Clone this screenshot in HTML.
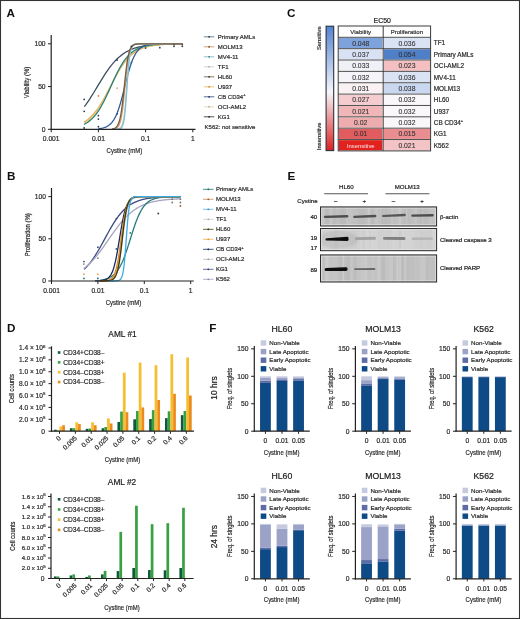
<!DOCTYPE html>
<html><head><meta charset="utf-8"><style>
html,body{margin:0;padding:0;background:#fff;width:520px;height:619px;overflow:hidden}
svg{display:block;font-family:"Liberation Sans", sans-serif;filter:blur(0.3px)}
</style></head><body>
<svg width="520" height="619" viewBox="0 0 520 619">
<rect width="520" height="619" fill="#fff"/>
<text transform="translate(6.50,16.60)" font-size="11.7" text-anchor="start" fill="#111" font-weight="bold">A</text>
<text transform="translate(7.00,180.10)" font-size="11.7" text-anchor="start" fill="#111" font-weight="bold">B</text>
<text transform="translate(287.00,16.80)" font-size="11.7" text-anchor="start" fill="#111" font-weight="bold">C</text>
<text transform="translate(7.00,331.70)" font-size="11.7" text-anchor="start" fill="#111" font-weight="bold">D</text>
<text transform="translate(287.40,180.20)" font-size="11.7" text-anchor="start" fill="#111" font-weight="bold">E</text>
<text transform="translate(209.30,331.50)" font-size="11.7" text-anchor="start" fill="#111" font-weight="bold">F</text>
<polyline points="84.30,106.70 85.53,105.07 86.75,103.37 87.98,101.60 89.21,99.78 90.44,97.90 91.66,95.97 92.89,94.00 94.12,92.00 95.35,89.97 96.58,87.93 97.80,85.88 99.03,83.83 100.26,81.80 101.48,79.79 102.71,77.80 103.94,75.86 105.17,73.96 106.39,72.12 107.62,70.33 108.85,68.61 110.08,66.96 111.31,65.37 112.53,63.86 113.76,62.43 114.99,61.07 116.22,59.78 117.44,58.58 118.67,57.44 119.90,56.38 121.12,55.38 122.35,54.45 123.58,53.59 124.81,52.79 126.03,52.05 127.26,51.36 128.49,50.73 129.72,50.14 130.94,49.60 132.17,49.10 133.40,48.64 134.63,48.22 135.86,47.84 137.08,47.48 138.31,47.16 139.54,46.86 140.76,46.59 141.99,46.35 143.22,46.12 144.45,45.91 145.68,45.72 146.90,45.55 148.13,45.39 149.36,45.25 150.58,45.12 151.81,45.00 153.04,44.89 154.27,44.79 155.50,44.70 156.72,44.62 157.95,44.55 159.18,44.48 160.41,44.42 161.63,44.36 162.86,44.31 164.09,44.26 165.31,44.22 166.54,44.18 167.77,44.15 169.00,44.12 170.22,44.09 171.45,44.06 172.68,44.04 173.91,44.02 175.13,44.00 176.36,43.98 177.59,43.96 178.82,43.95 180.05,43.93 181.27,43.92 182.50,43.91" fill="none" stroke="#3d4f66" stroke-width="1.3" stroke-linejoin="round"/>
<polyline points="84.00,122.19 85.23,121.42 86.46,120.59 87.69,119.67 88.92,118.67 90.16,117.59 91.39,116.41 92.62,115.13 93.85,113.76 95.08,112.29 96.31,110.71 97.54,109.03 98.78,107.25 100.01,105.37 101.24,103.39 102.47,101.33 103.70,99.18 104.93,96.96 106.16,94.68 107.39,92.36 108.62,89.99 109.86,87.61 111.09,85.21 112.32,82.83 113.55,80.47 114.78,78.15 116.01,75.87 117.24,73.66 118.47,71.53 119.71,69.47 120.94,67.51 122.17,65.64 123.40,63.87 124.63,62.20 125.86,60.64 127.09,59.17 128.32,57.81 129.56,56.55 130.79,55.38 132.02,54.31 133.25,53.32 134.48,52.41 135.71,51.58 136.94,50.83 138.18,50.14 139.41,49.51 140.64,48.94 141.87,48.43 143.10,47.96 144.33,47.54 145.56,47.16 146.79,46.82 148.03,46.51 149.26,46.23 150.49,45.98 151.72,45.75 152.95,45.55 154.18,45.37 155.41,45.20 156.64,45.06 157.88,44.93 159.11,44.81 160.34,44.70 161.57,44.61 162.80,44.52 164.03,44.45 165.26,44.38 166.49,44.32 167.72,44.26 168.96,44.21 170.19,44.17 171.42,44.13 172.65,44.10 173.88,44.07 175.11,44.04 176.34,44.01 177.57,43.99 178.81,43.97 180.04,43.95 181.27,43.94 182.50,43.92" fill="none" stroke="#e8a23a" stroke-width="1.3" stroke-linejoin="round"/>
<polyline points="84.00,123.29 85.23,122.59 86.46,121.81 87.69,120.95 88.92,120.01 90.16,118.97 91.39,117.84 92.62,116.60 93.85,115.25 95.08,113.79 96.31,112.21 97.54,110.52 98.78,108.71 100.01,106.78 101.24,104.74 102.47,102.60 103.70,100.36 104.93,98.03 106.16,95.62 107.39,93.15 108.62,90.64 109.86,88.09 111.09,85.54 112.32,82.99 113.55,80.47 114.78,77.99 116.01,75.57 117.24,73.22 118.47,70.96 119.71,68.79 120.94,66.73 122.17,64.78 123.40,62.95 124.63,61.23 125.86,59.63 127.09,58.15 128.32,56.78 129.56,55.51 130.79,54.36 132.02,53.30 133.25,52.34 134.48,51.46 135.71,50.67 136.94,49.95 138.18,49.30 139.41,48.72 140.64,48.19 141.87,47.72 143.10,47.30 144.33,46.92 145.56,46.58 146.79,46.27 148.03,46.00 149.26,45.76 150.49,45.54 151.72,45.35 152.95,45.18 154.18,45.02 155.41,44.89 156.64,44.77 157.88,44.66 159.11,44.56 160.34,44.48 161.57,44.40 162.80,44.33 164.03,44.27 165.26,44.22 166.49,44.17 167.72,44.13 168.96,44.10 170.19,44.06 171.42,44.03 172.65,44.01 173.88,43.98 175.11,43.96 176.34,43.94 177.57,43.93 178.81,43.91 180.04,43.90 181.27,43.89 182.50,43.88" fill="none" stroke="#e6d28e" stroke-width="1.3" stroke-linejoin="round"/>
<polyline points="84.00,124.36 85.23,123.73 86.46,123.02 87.69,122.23 88.92,121.36 90.16,120.38 91.39,119.31 92.62,118.12 93.85,116.81 95.08,115.38 96.31,113.82 97.54,112.13 98.78,110.30 100.01,108.33 101.24,106.24 102.47,104.02 103.70,101.68 104.93,99.22 106.16,96.68 107.39,94.06 108.62,91.37 109.86,88.65 111.09,85.91 112.32,83.18 113.55,80.47 114.78,77.81 116.01,75.22 117.24,72.72 118.47,70.32 119.71,68.03 120.94,65.87 122.17,63.83 123.40,61.93 124.63,60.17 125.86,58.54 127.09,57.04 128.32,55.67 129.56,54.41 130.79,53.28 132.02,52.25 133.25,51.32 134.48,50.49 135.71,49.74 136.94,49.07 138.18,48.47 139.41,47.93 140.64,47.46 141.87,47.03 143.10,46.66 144.33,46.32 145.56,46.03 146.79,45.77 148.03,45.53 149.26,45.33 150.49,45.15 151.72,44.99 152.95,44.85 154.18,44.72 155.41,44.61 156.64,44.52 157.88,44.43 159.11,44.35 160.34,44.29 161.57,44.23 162.80,44.18 164.03,44.13 165.26,44.09 166.49,44.06 167.72,44.03 168.96,44.00 170.19,43.98 171.42,43.95 172.65,43.94 173.88,43.92 175.11,43.91 176.34,43.89 177.57,43.88 178.81,43.87 180.04,43.86 181.27,43.86 182.50,43.85" fill="none" stroke="#2b7f78" stroke-width="1.3" stroke-linejoin="round"/>
<polyline points="98.30,128.73 99.35,128.60 100.41,128.45 101.46,128.27 102.51,128.04 103.56,127.77 104.61,127.44 105.67,127.05 106.72,126.57 107.77,125.99 108.83,125.30 109.88,124.47 110.93,123.48 111.98,122.31 113.03,120.92 114.09,119.30 115.14,117.41 116.19,115.22 117.25,112.73 118.30,109.91 119.35,106.78 120.40,103.33 121.45,99.61 122.51,95.65 123.56,91.53 124.61,87.31 125.66,83.07 126.72,78.90 127.77,74.88 128.82,71.06 129.88,67.52 130.93,64.27 131.98,61.34 133.03,58.73 134.09,56.44 135.14,54.44 136.19,52.73 137.24,51.26 138.29,50.01 139.35,48.96 140.40,48.08 141.45,47.34 142.50,46.72 143.56,46.21 144.61,45.79 145.66,45.44 146.72,45.15 147.77,44.91 148.82,44.71 149.87,44.55 150.93,44.41 151.98,44.30 153.03,44.21 154.08,44.14 155.13,44.08 156.19,44.03 157.24,43.99 158.29,43.95 159.34,43.93 160.40,43.90 161.45,43.88 162.50,43.87 163.56,43.86 164.61,43.85 165.66,43.84 166.71,43.83 167.76,43.83 168.82,43.82 169.87,43.82 170.92,43.81 171.97,43.81 173.03,43.81 174.08,43.81 175.13,43.81 176.19,43.81 177.24,43.80 178.29,43.80 179.34,43.80 180.39,43.80 181.45,43.80 182.50,43.80" fill="none" stroke="#2d5c98" stroke-width="1.3" stroke-linejoin="round"/>
<polyline points="115.00,129.25 115.84,129.21 116.69,129.15 117.53,129.04 118.38,128.86 119.22,128.56 120.06,128.05 120.91,127.20 121.75,125.81 122.59,123.55 123.44,119.99 124.28,114.63 125.12,107.08 125.97,97.41 126.81,86.38 127.66,75.38 128.50,65.76 129.34,58.28 130.19,52.99 131.03,49.47 131.88,47.24 132.72,45.86 133.56,45.03 134.41,44.53 135.25,44.23 136.09,44.06 136.94,43.95 137.78,43.89 138.62,43.85 139.47,43.83 140.31,43.82 141.16,43.81 142.00,43.81 142.84,43.80 143.69,43.80 144.53,43.80 145.38,43.80 146.22,43.80 147.06,43.80 147.91,43.80 148.75,43.80 149.59,43.80 150.44,43.80 151.28,43.80 152.12,43.80 152.97,43.80 153.81,43.80 154.66,43.80 155.50,43.80 156.34,43.80 157.19,43.80 158.03,43.80 158.88,43.80 159.72,43.80 160.56,43.80 161.41,43.80 162.25,43.80 163.09,43.80 163.94,43.80 164.78,43.80 165.62,43.80 166.47,43.80 167.31,43.80 168.16,43.80 169.00,43.80 169.84,43.80 170.69,43.80 171.53,43.80 172.38,43.80 173.22,43.80 174.06,43.80 174.91,43.80 175.75,43.80 176.59,43.80 177.44,43.80 178.28,43.80 179.12,43.80 179.97,43.80 180.81,43.80 181.66,43.80 182.50,43.80" fill="none" stroke="#c9c9c9" stroke-width="1.3" stroke-linejoin="round"/>
<polyline points="115.00,128.73 115.84,128.43 116.69,127.98 117.53,127.31 118.38,126.30 119.22,124.80 120.06,122.62 120.91,119.52 121.75,115.23 122.59,109.56 123.44,102.45 124.28,94.15 125.12,85.21 125.97,76.39 126.81,68.40 127.66,61.71 128.50,56.46 129.34,52.55 130.19,49.75 131.03,47.79 131.88,46.46 132.72,45.57 133.56,44.97 134.41,44.57 135.25,44.31 136.09,44.13 136.94,44.02 137.78,43.94 138.62,43.89 139.47,43.86 140.31,43.84 141.16,43.83 142.00,43.82 142.84,43.81 143.69,43.81 144.53,43.80 145.38,43.80 146.22,43.80 147.06,43.80 147.91,43.80 148.75,43.80 149.59,43.80 150.44,43.80 151.28,43.80 152.12,43.80 152.97,43.80 153.81,43.80 154.66,43.80 155.50,43.80 156.34,43.80 157.19,43.80 158.03,43.80 158.88,43.80 159.72,43.80 160.56,43.80 161.41,43.80 162.25,43.80 163.09,43.80 163.94,43.80 164.78,43.80 165.62,43.80 166.47,43.80 167.31,43.80 168.16,43.80 169.00,43.80 169.84,43.80 170.69,43.80 171.53,43.80 172.38,43.80 173.22,43.80 174.06,43.80 174.91,43.80 175.75,43.80 176.59,43.80 177.44,43.80 178.28,43.80 179.12,43.80 179.97,43.80 180.81,43.80 181.66,43.80 182.50,43.80" fill="none" stroke="#d9a070" stroke-width="1.3" stroke-linejoin="round"/>
<polyline points="115.00,129.28 115.84,129.27 116.69,129.25 117.53,129.20 118.38,129.12 119.22,128.97 120.06,128.70 120.91,128.21 121.75,127.34 122.59,125.78 123.44,123.08 124.28,118.58 125.12,111.55 125.97,101.62 126.81,89.41 127.66,76.71 128.50,65.61 129.34,57.30 130.19,51.76 131.03,48.35 131.88,46.35 132.72,45.21 133.56,44.58 134.41,44.23 135.25,44.04 136.09,43.93 136.94,43.87 137.78,43.84 138.62,43.82 139.47,43.81 140.31,43.81 141.16,43.80 142.00,43.80 142.84,43.80 143.69,43.80 144.53,43.80 145.38,43.80 146.22,43.80 147.06,43.80 147.91,43.80 148.75,43.80 149.59,43.80 150.44,43.80 151.28,43.80 152.12,43.80 152.97,43.80 153.81,43.80 154.66,43.80 155.50,43.80 156.34,43.80 157.19,43.80 158.03,43.80 158.88,43.80 159.72,43.80 160.56,43.80 161.41,43.80 162.25,43.80 163.09,43.80 163.94,43.80 164.78,43.80 165.62,43.80 166.47,43.80 167.31,43.80 168.16,43.80 169.00,43.80 169.84,43.80 170.69,43.80 171.53,43.80 172.38,43.80 173.22,43.80 174.06,43.80 174.91,43.80 175.75,43.80 176.59,43.80 177.44,43.80 178.28,43.80 179.12,43.80 179.97,43.80 180.81,43.80 181.66,43.80 182.50,43.80" fill="none" stroke="#7cc2d6" stroke-width="1.3" stroke-linejoin="round"/>
<polyline points="112.00,128.98 112.88,128.83 113.76,128.59 114.64,128.25 115.53,127.74 116.41,127.00 117.29,125.91 118.17,124.34 119.05,122.10 119.93,118.98 120.81,114.76 121.69,109.27 122.58,102.50 123.46,94.65 124.34,86.19 125.22,77.75 126.10,69.98 126.98,63.31 127.86,57.93 128.74,53.81 129.62,50.78 130.51,48.60 131.39,47.08 132.27,46.03 133.15,45.30 134.03,44.81 134.91,44.48 135.79,44.26 136.68,44.11 137.56,44.01 138.44,43.94 139.32,43.89 140.20,43.86 141.08,43.84 141.96,43.83 142.84,43.82 143.72,43.81 144.61,43.81 145.49,43.81 146.37,43.80 147.25,43.80 148.13,43.80 149.01,43.80 149.89,43.80 150.78,43.80 151.66,43.80 152.54,43.80 153.42,43.80 154.30,43.80 155.18,43.80 156.06,43.80 156.94,43.80 157.82,43.80 158.71,43.80 159.59,43.80 160.47,43.80 161.35,43.80 162.23,43.80 163.11,43.80 163.99,43.80 164.88,43.80 165.76,43.80 166.64,43.80 167.52,43.80 168.40,43.80 169.28,43.80 170.16,43.80 171.04,43.80 171.93,43.80 172.81,43.80 173.69,43.80 174.57,43.80 175.45,43.80 176.33,43.80 177.21,43.80 178.09,43.80 178.97,43.80 179.86,43.80 180.74,43.80 181.62,43.80 182.50,43.80" fill="none" stroke="#7a5a3c" stroke-width="1.3" stroke-linejoin="round"/>
<circle cx="84.19" cy="99.38" r="0.9" fill="#2c3e50"/>
<circle cx="84.19" cy="111.35" r="0.9" fill="#2c3e50"/>
<circle cx="84.19" cy="128.02" r="0.9" fill="#2c3e50"/>
<circle cx="98.40" cy="95.96" r="0.9" fill="#e08a3a"/>
<circle cx="98.40" cy="115.62" r="0.9" fill="#2c3e50"/>
<circle cx="98.40" cy="119.04" r="0.9" fill="#2c3e50"/>
<circle cx="98.40" cy="126.74" r="0.9" fill="#2c3e50"/>
<circle cx="117.18" cy="60.05" r="0.9" fill="#2c3e50"/>
<circle cx="117.18" cy="88.26" r="0.9" fill="#e8b070"/>
<circle cx="117.18" cy="113.91" r="0.9" fill="#2d5c98"/>
<circle cx="131.39" cy="62.61" r="0.9" fill="#2d5c98"/>
<circle cx="131.39" cy="46.36" r="0.9" fill="#2c3e50"/>
<circle cx="145.60" cy="48.08" r="0.9" fill="#2c3e50"/>
<circle cx="159.81" cy="47.65" r="0.9" fill="#2c3e50"/>
<circle cx="174.02" cy="46.36" r="0.9" fill="#2c3e50"/>
<circle cx="174.02" cy="44.65" r="0.9" fill="#6b4a2c"/>
<circle cx="182.33" cy="46.36" r="0.9" fill="#2c3e50"/>
<circle cx="182.33" cy="44.65" r="0.9" fill="#6b4a2c"/>
<line x1="51.20" y1="35.00" x2="51.20" y2="129.90" stroke="#222" stroke-width="1.2"/>
<line x1="50.60" y1="129.30" x2="195.50" y2="129.30" stroke="#222" stroke-width="1.2"/>
<line x1="48.00" y1="129.30" x2="51.20" y2="129.30" stroke="#222" stroke-width="1"/>
<text transform="translate(45.60,131.70)" font-size="6.7" text-anchor="end" fill="#2a2a2a" stroke="#2a2a2a" stroke-width="0.2">0</text>
<line x1="48.00" y1="86.55" x2="51.20" y2="86.55" stroke="#222" stroke-width="1"/>
<text transform="translate(45.60,88.95)" font-size="6.7" text-anchor="end" fill="#2a2a2a" stroke="#2a2a2a" stroke-width="0.2">50</text>
<line x1="48.00" y1="43.80" x2="51.20" y2="43.80" stroke="#222" stroke-width="1"/>
<text transform="translate(45.60,46.20)" font-size="6.7" text-anchor="end" fill="#2a2a2a" stroke="#2a2a2a" stroke-width="0.2">100</text>
<line x1="51.20" y1="129.30" x2="51.20" y2="132.30" stroke="#222" stroke-width="1"/>
<text transform="translate(51.20,141.10)" font-size="6.7" text-anchor="middle" fill="#2a2a2a" stroke="#2a2a2a" stroke-width="0.2">0.001</text>
<line x1="98.40" y1="129.30" x2="98.40" y2="132.30" stroke="#222" stroke-width="1"/>
<text transform="translate(98.40,141.10)" font-size="6.7" text-anchor="middle" fill="#2a2a2a" stroke="#2a2a2a" stroke-width="0.2">0.01</text>
<line x1="145.60" y1="129.30" x2="145.60" y2="132.30" stroke="#222" stroke-width="1"/>
<text transform="translate(145.60,141.10)" font-size="6.7" text-anchor="middle" fill="#2a2a2a" stroke="#2a2a2a" stroke-width="0.2">0.1</text>
<line x1="192.80" y1="129.30" x2="192.80" y2="132.30" stroke="#222" stroke-width="1"/>
<text transform="translate(192.80,141.10)" font-size="6.7" text-anchor="middle" fill="#2a2a2a" stroke="#2a2a2a" stroke-width="0.2">1</text>
<text transform="translate(124.36,153.02) scale(0.79,1)" font-size="7.6" text-anchor="middle" fill="#2a2a2a" stroke="#2a2a2a" stroke-width="0.2">Cystine (mM)</text>
<text transform="translate(29.30,82.45) rotate(-90) scale(0.77,1)" font-size="7.8" text-anchor="middle" fill="#2a2a2a" stroke="#2a2a2a" stroke-width="0.2">Viability (%)</text>
<line x1="203.80" y1="36.80" x2="214.30" y2="36.80" stroke="#6f8a99" stroke-width="1.0"/>
<circle cx="209.10" cy="36.80" r="0.9" fill="#1e2f3d"/>
<text transform="translate(217.80,38.95)" font-size="6" text-anchor="start" fill="#2a2a2a" stroke="#2a2a2a" stroke-width="0.2">Primary AMLs</text>
<line x1="203.80" y1="46.80" x2="214.30" y2="46.80" stroke="#d6a27c" stroke-width="1.0"/>
<circle cx="209.10" cy="46.80" r="0.9" fill="#6a4526"/>
<text transform="translate(217.80,48.95)" font-size="6" text-anchor="start" fill="#2a2a2a" stroke="#2a2a2a" stroke-width="0.2">MOLM13</text>
<line x1="203.80" y1="56.80" x2="214.30" y2="56.80" stroke="#8cc3cc" stroke-width="1.0"/>
<circle cx="209.10" cy="56.80" r="0.9" fill="#3a7f8d"/>
<text transform="translate(217.80,58.95)" font-size="6" text-anchor="start" fill="#2a2a2a" stroke="#2a2a2a" stroke-width="0.2">MV4-11</text>
<line x1="203.80" y1="66.80" x2="214.30" y2="66.80" stroke="#d3d3d3" stroke-width="1.0"/>
<circle cx="209.10" cy="66.80" r="0.9" fill="#a9a9a9"/>
<text transform="translate(217.80,68.95)" font-size="6" text-anchor="start" fill="#2a2a2a" stroke="#2a2a2a" stroke-width="0.2">TF1</text>
<line x1="203.80" y1="76.80" x2="214.30" y2="76.80" stroke="#8a7a6a" stroke-width="1.0"/>
<circle cx="209.10" cy="76.80" r="0.9" fill="#3a2a1a"/>
<text transform="translate(217.80,78.95)" font-size="6" text-anchor="start" fill="#2a2a2a" stroke="#2a2a2a" stroke-width="0.2">HL60</text>
<line x1="203.80" y1="86.80" x2="214.30" y2="86.80" stroke="#f2c27a" stroke-width="1.0"/>
<circle cx="209.10" cy="86.80" r="0.9" fill="#c98a2a"/>
<text transform="translate(217.80,88.95)" font-size="6" text-anchor="start" fill="#2a2a2a" stroke="#2a2a2a" stroke-width="0.2">U937</text>
<line x1="203.80" y1="96.80" x2="214.30" y2="96.80" stroke="#5a6f95" stroke-width="1.0"/>
<circle cx="209.10" cy="96.80" r="0.9" fill="#1b2f5a"/>
<text transform="translate(217.80,98.95)" font-size="6" text-anchor="start" fill="#2a2a2a" stroke="#2a2a2a" stroke-width="0.2">CB CD34<tspan font-size="4" dy="-2.5">+</tspan></text>
<line x1="203.80" y1="106.80" x2="214.30" y2="106.80" stroke="#e6dcc0" stroke-width="1.0"/>
<circle cx="209.10" cy="106.80" r="0.9" fill="#b8a888"/>
<text transform="translate(217.80,108.95)" font-size="6" text-anchor="start" fill="#2a2a2a" stroke="#2a2a2a" stroke-width="0.2">OCI-AML2</text>
<line x1="203.80" y1="116.80" x2="214.30" y2="116.80" stroke="#555" stroke-width="1.0"/>
<circle cx="209.10" cy="116.80" r="0.9" fill="#222"/>
<text transform="translate(217.80,118.95)" font-size="6" text-anchor="start" fill="#2a2a2a" stroke="#2a2a2a" stroke-width="0.2">KG1</text>
<text transform="translate(204.60,128.95)" font-size="6" text-anchor="start" fill="#2a2a2a" stroke="#2a2a2a" stroke-width="0.2">K562: not sensitive</text>
<polyline points="84.00,269.28 85.21,268.17 86.41,266.97 87.62,265.69 88.83,264.32 90.03,262.86 91.24,261.31 92.44,259.67 93.65,257.94 94.86,256.12 96.06,254.22 97.27,252.25 98.47,250.22 99.68,248.12 100.89,245.97 102.09,243.79 103.30,241.57 104.51,239.34 105.71,237.11 106.92,234.89 108.12,232.69 109.33,230.52 110.54,228.40 111.74,226.33 112.95,224.33 114.16,222.39 115.36,220.54 116.57,218.77 117.78,217.08 118.98,215.48 120.19,213.98 121.39,212.56 122.60,211.24 123.81,210.00 125.01,208.85 126.22,207.78 127.42,206.80 128.63,205.89 129.84,205.05 131.04,204.28 132.25,203.57 133.46,202.92 134.66,202.33 135.87,201.79 137.07,201.30 138.28,200.85 139.49,200.44 140.69,200.07 141.90,199.74 143.11,199.43 144.31,199.16 145.52,198.91 146.72,198.68 147.93,198.48 149.14,198.29 150.34,198.13 151.55,197.97 152.76,197.84 153.96,197.72 155.17,197.61 156.38,197.51 157.58,197.42 158.79,197.33 159.99,197.26 161.20,197.20 162.41,197.14 163.61,197.08 164.82,197.03 166.03,196.99 167.23,196.95 168.44,196.92 169.64,196.88 170.85,196.86 172.06,196.83 173.26,196.81 174.47,196.79 175.68,196.77 176.88,196.75 178.09,196.74 179.29,196.72 180.50,196.71" fill="none" stroke="#3c4a82" stroke-width="1.3" stroke-linejoin="round"/>
<polyline points="84.00,268.37 85.21,267.44 86.41,266.45 87.62,265.41 88.83,264.32 90.03,263.17 91.24,261.96 92.44,260.70 93.65,259.38 94.86,258.00 96.06,256.57 97.27,255.10 98.47,253.57 99.68,252.01 100.89,250.40 102.09,248.76 103.30,247.08 104.51,245.38 105.71,243.66 106.92,241.93 108.12,240.19 109.33,238.44 110.54,236.70 111.74,234.97 112.95,233.26 114.16,231.57 115.36,229.91 116.57,228.28 117.78,226.68 118.98,225.13 120.19,223.63 121.39,222.17 122.60,220.76 123.81,219.41 125.01,218.11 126.22,216.86 127.42,215.68 128.63,214.55 129.84,213.47 131.04,212.46 132.25,211.49 133.46,210.58 134.66,209.73 135.87,208.92 137.07,208.16 138.28,207.45 139.49,206.79 140.69,206.17 141.90,205.58 143.11,205.04 144.31,204.54 145.52,204.07 146.72,203.63 147.93,203.22 149.14,202.85 150.34,202.50 151.55,202.17 152.76,201.87 153.96,201.59 155.17,201.34 156.38,201.10 157.58,200.88 158.79,200.67 159.99,200.49 161.20,200.31 162.41,200.15 163.61,200.00 164.82,199.87 166.03,199.74 167.23,199.63 168.44,199.52 169.64,199.42 170.85,199.33 172.06,199.25 173.26,199.17 174.47,199.10 175.68,199.04 176.88,198.98 178.09,198.92 179.29,198.87 180.50,198.82" fill="none" stroke="#a4a4c0" stroke-width="1.3" stroke-linejoin="round"/>
<polyline points="100.00,280.17 101.01,280.03 102.01,279.87 103.02,279.69 104.03,279.48 105.03,279.23 106.04,278.95 107.04,278.62 108.05,278.24 109.06,277.80 110.06,277.30 111.07,276.72 112.08,276.05 113.08,275.29 114.09,274.43 115.09,273.44 116.10,272.33 117.11,271.06 118.11,269.65 119.12,268.07 120.12,266.31 121.13,264.36 122.14,262.23 123.14,259.91 124.15,257.41 125.16,254.73 126.16,251.90 127.17,248.93 128.18,245.85 129.18,242.69 130.19,239.48 131.19,236.27 132.20,233.08 133.21,229.96 134.21,226.94 135.22,224.04 136.22,221.30 137.23,218.72 138.24,216.32 139.24,214.11 140.25,212.09 141.26,210.26 142.26,208.60 143.27,207.11 144.28,205.79 145.28,204.61 146.29,203.57 147.29,202.66 148.30,201.85 149.31,201.15 150.31,200.54 151.32,200.00 152.32,199.54 153.33,199.14 154.34,198.79 155.34,198.48 156.35,198.22 157.36,198.00 158.36,197.80 159.37,197.63 160.38,197.49 161.38,197.37 162.39,197.26 163.39,197.17 164.40,197.09 165.41,197.02 166.41,196.96 167.42,196.91 168.43,196.86 169.43,196.83 170.44,196.80 171.44,196.77 172.45,196.74 173.46,196.72 174.46,196.71 175.47,196.69 176.47,196.68 177.48,196.67 178.49,196.66 179.49,196.65 180.50,196.64" fill="none" stroke="#2a7a7a" stroke-width="1.3" stroke-linejoin="round"/>
<polyline points="95.00,280.94 96.07,280.91 97.14,280.88 98.21,280.84 99.28,280.78 100.34,280.70 101.41,280.59 102.48,280.44 103.55,280.23 104.62,279.95 105.69,279.57 106.76,279.06 107.83,278.36 108.89,277.43 109.96,276.19 111.03,274.54 112.10,272.40 113.17,269.65 114.24,266.20 115.31,261.96 116.38,256.93 117.44,251.19 118.51,244.89 119.58,238.30 120.65,231.73 121.72,225.50 122.79,219.85 123.86,214.94 124.92,210.83 125.99,207.49 127.06,204.84 128.13,202.78 129.20,201.20 130.27,200.01 131.34,199.12 132.41,198.45 133.47,197.96 134.54,197.60 135.61,197.33 136.68,197.14 137.75,196.99 138.82,196.89 139.89,196.81 140.96,196.75 142.03,196.71 143.09,196.68 144.16,196.66 145.23,196.64 146.30,196.63 147.37,196.62 148.44,196.62 149.51,196.61 150.57,196.61 151.64,196.61 152.71,196.60 153.78,196.60 154.85,196.60 155.92,196.60 156.99,196.60 158.06,196.60 159.12,196.60 160.19,196.60 161.26,196.60 162.33,196.60 163.40,196.60 164.47,196.60 165.54,196.60 166.61,196.60 167.68,196.60 168.74,196.60 169.81,196.60 170.88,196.60 171.95,196.60 173.02,196.60 174.09,196.60 175.16,196.60 176.22,196.60 177.29,196.60 178.36,196.60 179.43,196.60 180.50,196.60" fill="none" stroke="#1b2a5a" stroke-width="1.3" stroke-linejoin="round"/>
<polyline points="100.00,280.98 101.01,280.97 102.01,280.96 103.02,280.94 104.03,280.91 105.03,280.87 106.04,280.81 107.04,280.73 108.05,280.60 109.06,280.42 110.06,280.17 111.07,279.79 112.08,279.26 113.08,278.50 114.09,277.42 115.09,275.90 116.10,273.79 117.11,270.92 118.11,267.11 119.12,262.24 120.12,256.25 121.13,249.27 122.14,241.63 123.14,233.79 124.15,226.29 125.16,219.57 126.16,213.89 127.17,209.32 128.18,205.79 129.18,203.15 130.19,201.23 131.19,199.84 132.20,198.86 133.21,198.17 134.21,197.69 135.22,197.35 136.22,197.12 137.23,196.96 138.24,196.85 139.24,196.77 140.25,196.72 141.26,196.68 142.26,196.66 143.27,196.64 144.28,196.63 145.28,196.62 146.29,196.61 147.29,196.61 148.30,196.61 149.31,196.60 150.31,196.60 151.32,196.60 152.32,196.60 153.33,196.60 154.34,196.60 155.34,196.60 156.35,196.60 157.36,196.60 158.36,196.60 159.37,196.60 160.38,196.60 161.38,196.60 162.39,196.60 163.39,196.60 164.40,196.60 165.41,196.60 166.41,196.60 167.42,196.60 168.43,196.60 169.43,196.60 170.44,196.60 171.44,196.60 172.45,196.60 173.46,196.60 174.46,196.60 175.47,196.60 176.47,196.60 177.48,196.60 178.49,196.60 179.49,196.60 180.50,196.60" fill="none" stroke="#cfcfcf" stroke-width="1.3" stroke-linejoin="round"/>
<polyline points="100.00,280.96 101.01,280.94 102.01,280.91 103.02,280.87 104.03,280.82 105.03,280.74 106.04,280.63 107.04,280.47 108.05,280.24 109.06,279.91 110.06,279.45 111.07,278.79 112.08,277.88 113.08,276.60 114.09,274.83 115.09,272.43 116.10,269.25 117.11,265.12 118.11,259.96 119.12,253.80 120.12,246.80 121.13,239.32 122.14,231.80 123.14,224.71 124.15,218.42 125.16,213.12 126.16,208.86 127.17,205.55 128.18,203.06 129.18,201.21 130.19,199.87 131.19,198.91 132.20,198.23 133.21,197.74 134.21,197.40 135.22,197.16 136.22,196.99 137.23,196.87 138.24,196.79 139.24,196.73 140.25,196.69 141.26,196.67 142.26,196.65 143.27,196.63 144.28,196.62 145.28,196.62 146.29,196.61 147.29,196.61 148.30,196.61 149.31,196.60 150.31,196.60 151.32,196.60 152.32,196.60 153.33,196.60 154.34,196.60 155.34,196.60 156.35,196.60 157.36,196.60 158.36,196.60 159.37,196.60 160.38,196.60 161.38,196.60 162.39,196.60 163.39,196.60 164.40,196.60 165.41,196.60 166.41,196.60 167.42,196.60 168.43,196.60 169.43,196.60 170.44,196.60 171.44,196.60 172.45,196.60 173.46,196.60 174.46,196.60 175.47,196.60 176.47,196.60 177.48,196.60 178.49,196.60 179.49,196.60 180.50,196.60" fill="none" stroke="#c8824a" stroke-width="1.3" stroke-linejoin="round"/>
<polyline points="100.00,280.98 101.01,280.97 102.01,280.96 103.02,280.94 104.03,280.91 105.03,280.87 106.04,280.80 107.04,280.71 108.05,280.58 109.06,280.38 110.06,280.09 111.07,279.66 112.08,279.04 113.08,278.15 114.09,276.87 115.09,275.05 116.10,272.52 117.11,269.08 118.11,264.55 119.12,258.82 120.12,251.94 121.13,244.20 122.14,236.06 123.14,228.13 124.15,220.93 125.16,214.81 126.16,209.88 127.17,206.10 128.18,203.29 129.18,201.26 130.19,199.82 131.19,198.82 132.20,198.12 133.21,197.64 134.21,197.31 135.22,197.08 136.22,196.93 137.23,196.82 138.24,196.75 139.24,196.70 140.25,196.67 141.26,196.65 142.26,196.63 143.27,196.62 144.28,196.61 145.28,196.61 146.29,196.61 147.29,196.60 148.30,196.60 149.31,196.60 150.31,196.60 151.32,196.60 152.32,196.60 153.33,196.60 154.34,196.60 155.34,196.60 156.35,196.60 157.36,196.60 158.36,196.60 159.37,196.60 160.38,196.60 161.38,196.60 162.39,196.60 163.39,196.60 164.40,196.60 165.41,196.60 166.41,196.60 167.42,196.60 168.43,196.60 169.43,196.60 170.44,196.60 171.44,196.60 172.45,196.60 173.46,196.60 174.46,196.60 175.47,196.60 176.47,196.60 177.48,196.60 178.49,196.60 179.49,196.60 180.50,196.60" fill="none" stroke="#f2a428" stroke-width="1.3" stroke-linejoin="round"/>
<polyline points="100.00,280.99 101.01,280.99 102.01,280.98 103.02,280.97 104.03,280.96 105.03,280.94 106.04,280.90 107.04,280.85 108.05,280.78 109.06,280.66 110.06,280.49 111.07,280.22 112.08,279.83 113.08,279.23 114.09,278.33 115.09,277.01 116.10,275.07 117.11,272.30 118.11,268.45 119.12,263.28 120.12,256.71 121.13,248.88 122.14,240.23 123.14,231.46 124.15,223.30 125.16,216.29 126.16,210.67 127.17,206.41 128.18,203.32 129.18,201.14 130.19,199.64 131.19,198.62 132.20,197.94 133.21,197.49 134.21,197.19 135.22,196.99 136.22,196.85 137.23,196.77 138.24,196.71 139.24,196.67 140.25,196.65 141.26,196.63 142.26,196.62 143.27,196.61 144.28,196.61 145.28,196.61 146.29,196.60 147.29,196.60 148.30,196.60 149.31,196.60 150.31,196.60 151.32,196.60 152.32,196.60 153.33,196.60 154.34,196.60 155.34,196.60 156.35,196.60 157.36,196.60 158.36,196.60 159.37,196.60 160.38,196.60 161.38,196.60 162.39,196.60 163.39,196.60 164.40,196.60 165.41,196.60 166.41,196.60 167.42,196.60 168.43,196.60 169.43,196.60 170.44,196.60 171.44,196.60 172.45,196.60 173.46,196.60 174.46,196.60 175.47,196.60 176.47,196.60 177.48,196.60 178.49,196.60 179.49,196.60 180.50,196.60" fill="none" stroke="#3a3a18" stroke-width="1.3" stroke-linejoin="round"/>
<polyline points="110.00,281.00 110.88,281.00 111.76,280.99 112.64,280.99 113.53,280.98 114.41,280.97 115.29,280.95 116.17,280.90 117.05,280.82 117.93,280.68 118.81,280.43 119.69,279.98 120.58,279.18 121.46,277.79 122.34,275.39 123.22,271.41 124.10,265.18 124.98,256.24 125.86,244.91 126.74,232.60 127.62,221.29 128.51,212.37 129.39,206.16 130.27,202.19 131.15,199.80 132.03,198.41 132.91,197.62 133.79,197.17 134.68,196.92 135.56,196.78 136.44,196.70 137.32,196.65 138.20,196.63 139.08,196.62 139.96,196.61 140.84,196.61 141.72,196.60 142.61,196.60 143.49,196.60 144.37,196.60 145.25,196.60 146.13,196.60 147.01,196.60 147.89,196.60 148.78,196.60 149.66,196.60 150.54,196.60 151.42,196.60 152.30,196.60 153.18,196.60 154.06,196.60 154.94,196.60 155.82,196.60 156.71,196.60 157.59,196.60 158.47,196.60 159.35,196.60 160.23,196.60 161.11,196.60 161.99,196.60 162.88,196.60 163.76,196.60 164.64,196.60 165.52,196.60 166.40,196.60 167.28,196.60 168.16,196.60 169.04,196.60 169.93,196.60 170.81,196.60 171.69,196.60 172.57,196.60 173.45,196.60 174.33,196.60 175.21,196.60 176.09,196.60 176.97,196.60 177.86,196.60 178.74,196.60 179.62,196.60 180.50,196.60" fill="none" stroke="#3aaae2" stroke-width="1.3" stroke-linejoin="round"/>
<circle cx="83.93" cy="261.59" r="0.9" fill="#3c4a82"/>
<circle cx="83.93" cy="264.12" r="0.9" fill="#888"/>
<circle cx="83.93" cy="274.25" r="0.9" fill="#e8a040"/>
<circle cx="83.93" cy="278.47" r="0.9" fill="#2a7a7a"/>
<circle cx="97.90" cy="247.24" r="0.9" fill="#3c4a82"/>
<circle cx="97.90" cy="258.21" r="0.9" fill="#888"/>
<circle cx="97.90" cy="274.25" r="0.9" fill="#e8a040"/>
<circle cx="97.90" cy="278.47" r="0.9" fill="#2a5a9a"/>
<circle cx="116.36" cy="218.54" r="0.9" fill="#3c4a82"/>
<circle cx="116.36" cy="248.93" r="0.9" fill="#2a5a9a"/>
<circle cx="130.33" cy="232.89" r="0.9" fill="#2a7a7a"/>
<circle cx="158.27" cy="213.48" r="0.9" fill="#2c3e50"/>
<circle cx="172.24" cy="199.13" r="0.9" fill="#777"/>
<circle cx="172.24" cy="202.51" r="0.9" fill="#777"/>
<circle cx="180.41" cy="199.13" r="0.9" fill="#777"/>
<circle cx="180.41" cy="202.51" r="0.9" fill="#777"/>
<circle cx="180.41" cy="205.88" r="0.9" fill="#a05030"/>
<line x1="51.50" y1="188.00" x2="51.50" y2="281.60" stroke="#222" stroke-width="1.2"/>
<line x1="50.90" y1="281.00" x2="193.80" y2="281.00" stroke="#222" stroke-width="1.2"/>
<line x1="48.30" y1="281.00" x2="51.50" y2="281.00" stroke="#222" stroke-width="1"/>
<text transform="translate(45.90,283.40)" font-size="6.7" text-anchor="end" fill="#2a2a2a" stroke="#2a2a2a" stroke-width="0.2">0</text>
<line x1="48.30" y1="238.80" x2="51.50" y2="238.80" stroke="#222" stroke-width="1"/>
<text transform="translate(45.90,241.20)" font-size="6.7" text-anchor="end" fill="#2a2a2a" stroke="#2a2a2a" stroke-width="0.2">50</text>
<line x1="48.30" y1="196.60" x2="51.50" y2="196.60" stroke="#222" stroke-width="1"/>
<text transform="translate(45.90,199.00)" font-size="6.7" text-anchor="end" fill="#2a2a2a" stroke="#2a2a2a" stroke-width="0.2">100</text>
<line x1="51.50" y1="281.00" x2="51.50" y2="284.00" stroke="#222" stroke-width="1"/>
<text transform="translate(51.50,292.80)" font-size="6.7" text-anchor="middle" fill="#2a2a2a" stroke="#2a2a2a" stroke-width="0.2">0.001</text>
<line x1="97.90" y1="281.00" x2="97.90" y2="284.00" stroke="#222" stroke-width="1"/>
<text transform="translate(97.90,292.80)" font-size="6.7" text-anchor="middle" fill="#2a2a2a" stroke="#2a2a2a" stroke-width="0.2">0.01</text>
<line x1="144.30" y1="281.00" x2="144.30" y2="284.00" stroke="#222" stroke-width="1"/>
<text transform="translate(144.30,292.80)" font-size="6.7" text-anchor="middle" fill="#2a2a2a" stroke="#2a2a2a" stroke-width="0.2">0.1</text>
<line x1="190.70" y1="281.00" x2="190.70" y2="284.00" stroke="#222" stroke-width="1"/>
<text transform="translate(190.70,292.80)" font-size="6.7" text-anchor="middle" fill="#2a2a2a" stroke="#2a2a2a" stroke-width="0.2">1</text>
<text transform="translate(123.42,304.72) scale(0.79,1)" font-size="7.6" text-anchor="middle" fill="#2a2a2a" stroke="#2a2a2a" stroke-width="0.2">Cystine (mM)</text>
<text transform="translate(29.60,234.70) rotate(-90) scale(0.77,1)" font-size="7.8" text-anchor="middle" fill="#2a2a2a" stroke="#2a2a2a" stroke-width="0.2">Proliferation (%)</text>
<line x1="203.00" y1="189.30" x2="213.50" y2="189.30" stroke="#4f8f8f" stroke-width="1.0"/>
<circle cx="208.30" cy="189.30" r="0.9" fill="#1f5f5f"/>
<text transform="translate(215.90,191.45)" font-size="6" text-anchor="start" fill="#2a2a2a" stroke="#2a2a2a" stroke-width="0.2">Primary AMLs</text>
<line x1="203.00" y1="199.30" x2="213.50" y2="199.30" stroke="#d8a07a" stroke-width="1.0"/>
<circle cx="208.30" cy="199.30" r="0.9" fill="#8a5a32"/>
<text transform="translate(215.90,201.45)" font-size="6" text-anchor="start" fill="#2a2a2a" stroke="#2a2a2a" stroke-width="0.2">MOLM13</text>
<line x1="203.00" y1="209.30" x2="213.50" y2="209.30" stroke="#7cc0e6" stroke-width="1.0"/>
<circle cx="208.30" cy="209.30" r="0.9" fill="#2a90c8"/>
<text transform="translate(215.90,211.45)" font-size="6" text-anchor="start" fill="#2a2a2a" stroke="#2a2a2a" stroke-width="0.2">MV4-11</text>
<line x1="203.00" y1="219.30" x2="213.50" y2="219.30" stroke="#d8d8d8" stroke-width="1.0"/>
<circle cx="208.30" cy="219.30" r="0.9" fill="#aaa"/>
<text transform="translate(215.90,221.45)" font-size="6" text-anchor="start" fill="#2a2a2a" stroke="#2a2a2a" stroke-width="0.2">TF1</text>
<line x1="203.00" y1="229.30" x2="213.50" y2="229.30" stroke="#6a6a3a" stroke-width="1.0"/>
<circle cx="208.30" cy="229.30" r="0.9" fill="#2a2a0a"/>
<text transform="translate(215.90,231.45)" font-size="6" text-anchor="start" fill="#2a2a2a" stroke="#2a2a2a" stroke-width="0.2">HL60</text>
<line x1="203.00" y1="239.30" x2="213.50" y2="239.30" stroke="#f5c070" stroke-width="1.0"/>
<circle cx="208.30" cy="239.30" r="0.9" fill="#e09020"/>
<text transform="translate(215.90,241.45)" font-size="6" text-anchor="start" fill="#2a2a2a" stroke="#2a2a2a" stroke-width="0.2">U937</text>
<line x1="203.00" y1="249.30" x2="213.50" y2="249.30" stroke="#4a5a80" stroke-width="1.0"/>
<circle cx="208.30" cy="249.30" r="0.9" fill="#101c40"/>
<text transform="translate(215.90,251.45)" font-size="6" text-anchor="start" fill="#2a2a2a" stroke="#2a2a2a" stroke-width="0.2">CB CD34<tspan font-size="4" dy="-2.5">+</tspan></text>
<line x1="203.00" y1="259.30" x2="213.50" y2="259.30" stroke="#c8c8c8" stroke-width="1.0"/>
<circle cx="208.30" cy="259.30" r="0.9" fill="#999"/>
<text transform="translate(215.90,261.45)" font-size="6" text-anchor="start" fill="#2a2a2a" stroke="#2a2a2a" stroke-width="0.2">OCI-AML2</text>
<line x1="203.00" y1="269.30" x2="213.50" y2="269.30" stroke="#6a74a0" stroke-width="1.0"/>
<circle cx="208.30" cy="269.30" r="0.9" fill="#2a3468"/>
<text transform="translate(215.90,271.45)" font-size="6" text-anchor="start" fill="#2a2a2a" stroke="#2a2a2a" stroke-width="0.2">KG1</text>
<line x1="203.00" y1="279.30" x2="213.50" y2="279.30" stroke="#b4b4cc" stroke-width="1.0"/>
<circle cx="208.30" cy="279.30" r="0.9" fill="#8888a8"/>
<text transform="translate(215.90,281.45)" font-size="6" text-anchor="start" fill="#2a2a2a" stroke="#2a2a2a" stroke-width="0.2">K562</text>
<!--C-->
<rect x="338.20" y="26.00" width="92.40" height="11.30" fill="#fff"/>
<rect x="338.70" y="37.90" width="43.70" height="10.16" fill="#7ea2dc"/>
<rect x="384.00" y="37.90" width="46.10" height="10.16" fill="#d9e3f4"/>
<text transform="translate(360.70,45.61)" font-size="6.8" text-anchor="middle" fill="#333" stroke="#333" stroke-width="0.1">0.048</text>
<text transform="translate(406.90,45.61)" font-size="6.8" text-anchor="middle" fill="#333" stroke="#333" stroke-width="0.1">0.036</text>
<text transform="translate(433.80,45.47)" font-size="6.4" text-anchor="start" fill="#2a2a2a" stroke="#2a2a2a" stroke-width="0.2">TF1</text>
<line x1="338.20" y1="37.30" x2="430.60" y2="37.30" stroke="#3a3a3a" stroke-width="0.9"/>
<rect x="338.70" y="49.26" width="43.70" height="10.16" fill="#d8e2f4"/>
<rect x="384.00" y="49.26" width="46.10" height="10.16" fill="#4f7fc6"/>
<text transform="translate(360.70,56.97)" font-size="6.8" text-anchor="middle" fill="#333" stroke="#333" stroke-width="0.1">0.037</text>
<text transform="translate(406.90,56.97)" font-size="6.8" text-anchor="middle" fill="#333" stroke="#333" stroke-width="0.1">0.054</text>
<text transform="translate(433.80,56.83)" font-size="6.4" text-anchor="start" fill="#2a2a2a" stroke="#2a2a2a" stroke-width="0.2">Primary AMLs</text>
<line x1="338.20" y1="48.66" x2="430.60" y2="48.66" stroke="#3a3a3a" stroke-width="0.9"/>
<rect x="338.70" y="60.62" width="43.70" height="10.16" fill="#eff1f7"/>
<rect x="384.00" y="60.62" width="46.10" height="10.16" fill="#f3bfc1"/>
<text transform="translate(360.70,68.33)" font-size="6.8" text-anchor="middle" fill="#333" stroke="#333" stroke-width="0.1">0.033</text>
<text transform="translate(406.90,68.33)" font-size="6.8" text-anchor="middle" fill="#333" stroke="#333" stroke-width="0.1">0.023</text>
<text transform="translate(433.80,68.19)" font-size="6.4" text-anchor="start" fill="#2a2a2a" stroke="#2a2a2a" stroke-width="0.2">OCI-AML2</text>
<line x1="338.20" y1="60.02" x2="430.60" y2="60.02" stroke="#3a3a3a" stroke-width="0.9"/>
<rect x="338.70" y="71.98" width="43.70" height="10.16" fill="#f5f5f9"/>
<rect x="384.00" y="71.98" width="46.10" height="10.16" fill="#d9e3f4"/>
<text transform="translate(360.70,79.69)" font-size="6.8" text-anchor="middle" fill="#333" stroke="#333" stroke-width="0.1">0.032</text>
<text transform="translate(406.90,79.69)" font-size="6.8" text-anchor="middle" fill="#333" stroke="#333" stroke-width="0.1">0.036</text>
<text transform="translate(433.80,79.55)" font-size="6.4" text-anchor="start" fill="#2a2a2a" stroke="#2a2a2a" stroke-width="0.2">MV4-11</text>
<line x1="338.20" y1="71.38" x2="430.60" y2="71.38" stroke="#3a3a3a" stroke-width="0.9"/>
<rect x="338.70" y="83.34" width="43.70" height="10.16" fill="#faf1f3"/>
<rect x="384.00" y="83.34" width="46.10" height="10.16" fill="#c9d7f0"/>
<text transform="translate(360.70,91.05)" font-size="6.8" text-anchor="middle" fill="#333" stroke="#333" stroke-width="0.1">0.031</text>
<text transform="translate(406.90,91.05)" font-size="6.8" text-anchor="middle" fill="#333" stroke="#333" stroke-width="0.1">0.038</text>
<text transform="translate(433.80,90.91)" font-size="6.4" text-anchor="start" fill="#2a2a2a" stroke="#2a2a2a" stroke-width="0.2">MOLM13</text>
<line x1="338.20" y1="82.74" x2="430.60" y2="82.74" stroke="#3a3a3a" stroke-width="0.9"/>
<rect x="338.70" y="94.70" width="43.70" height="10.16" fill="#f5cdd0"/>
<rect x="384.00" y="94.70" width="46.10" height="10.16" fill="#f9f7f9"/>
<text transform="translate(360.70,102.41)" font-size="6.8" text-anchor="middle" fill="#333" stroke="#333" stroke-width="0.1">0.027</text>
<text transform="translate(406.90,102.41)" font-size="6.8" text-anchor="middle" fill="#333" stroke="#333" stroke-width="0.1">0.032</text>
<text transform="translate(433.80,102.27)" font-size="6.4" text-anchor="start" fill="#2a2a2a" stroke="#2a2a2a" stroke-width="0.2">HL60</text>
<line x1="338.20" y1="94.10" x2="430.60" y2="94.10" stroke="#3a3a3a" stroke-width="0.9"/>
<rect x="338.70" y="106.06" width="43.70" height="10.16" fill="#f1b6b8"/>
<rect x="384.00" y="106.06" width="46.10" height="10.16" fill="#f9f7f9"/>
<text transform="translate(360.70,113.77)" font-size="6.8" text-anchor="middle" fill="#333" stroke="#333" stroke-width="0.1">0.021</text>
<text transform="translate(406.90,113.77)" font-size="6.8" text-anchor="middle" fill="#333" stroke="#333" stroke-width="0.1">0.032</text>
<text transform="translate(433.80,113.63)" font-size="6.4" text-anchor="start" fill="#2a2a2a" stroke="#2a2a2a" stroke-width="0.2">U937</text>
<line x1="338.20" y1="105.46" x2="430.60" y2="105.46" stroke="#3a3a3a" stroke-width="0.9"/>
<rect x="338.70" y="117.42" width="43.70" height="10.16" fill="#efacae"/>
<rect x="384.00" y="117.42" width="46.10" height="10.16" fill="#f9f7f9"/>
<text transform="translate(360.70,125.13)" font-size="6.8" text-anchor="middle" fill="#333" stroke="#333" stroke-width="0.1">0.02</text>
<text transform="translate(406.90,125.13)" font-size="6.8" text-anchor="middle" fill="#333" stroke="#333" stroke-width="0.1">0.032</text>
<text transform="translate(433.80,124.99)" font-size="6.4" text-anchor="start" fill="#2a2a2a" stroke="#2a2a2a" stroke-width="0.2">CB CD34<tspan font-size="4" dy="-2.5">+</tspan></text>
<line x1="338.20" y1="116.82" x2="430.60" y2="116.82" stroke="#3a3a3a" stroke-width="0.9"/>
<rect x="338.70" y="128.78" width="43.70" height="10.16" fill="#e15c5f"/>
<rect x="384.00" y="128.78" width="46.10" height="10.16" fill="#e98d90"/>
<text transform="translate(360.70,136.49)" font-size="6.8" text-anchor="middle" fill="#333" stroke="#333" stroke-width="0.1">0.01</text>
<text transform="translate(406.90,136.49)" font-size="6.8" text-anchor="middle" fill="#333" stroke="#333" stroke-width="0.1">0.015</text>
<text transform="translate(433.80,136.35)" font-size="6.4" text-anchor="start" fill="#2a2a2a" stroke="#2a2a2a" stroke-width="0.2">KG1</text>
<line x1="338.20" y1="128.18" x2="430.60" y2="128.18" stroke="#3a3a3a" stroke-width="0.9"/>
<rect x="338.70" y="140.14" width="43.70" height="10.16" fill="#e1221e"/>
<rect x="384.00" y="140.14" width="46.10" height="10.16" fill="#f3c3c5"/>
<text transform="translate(360.70,147.53)" font-size="5.9" text-anchor="middle" fill="#fde8e8">Insensitive</text>
<text transform="translate(406.90,147.85)" font-size="6.8" text-anchor="middle" fill="#333" stroke="#333" stroke-width="0.1">0.021</text>
<text transform="translate(433.80,147.71)" font-size="6.4" text-anchor="start" fill="#2a2a2a" stroke="#2a2a2a" stroke-width="0.2">K562</text>
<line x1="338.20" y1="139.54" x2="430.60" y2="139.54" stroke="#3a3a3a" stroke-width="0.9"/>
<text transform="translate(360.70,33.98)" font-size="6.1" text-anchor="middle" fill="#333" stroke="#333" stroke-width="0.2">Viability</text>
<text transform="translate(406.90,33.98)" font-size="6.1" text-anchor="middle" fill="#333" stroke="#333" stroke-width="0.2">Proliferation</text>
<rect x="338.20" y="26.00" width="92.40" height="124.90" fill="none" stroke="#3a3a3a" stroke-width="1"/>
<line x1="383.20" y1="26.00" x2="383.20" y2="150.90" stroke="#3a3a3a" stroke-width="1"/>
<text transform="translate(382.20,22.67)" font-size="6.9" text-anchor="middle" fill="#222" stroke="#222" stroke-width="0.2">EC50</text>
<defs><linearGradient id="cb" x1="0" y1="0" x2="0" y2="1"><stop offset="0" stop-color="#5383d0"/><stop offset="0.53" stop-color="#f6f6f9"/><stop offset="1" stop-color="#df1f1f"/></linearGradient></defs>
<rect x="326.1" y="26.2" width="7.6" height="124.4" fill="url(#cb)" stroke="#2a3040" stroke-width="1.1"/>
<text transform="translate(321.40,38.20) rotate(-90) scale(0.95,1)" font-size="6.2" text-anchor="middle" fill="#333" stroke="#333" stroke-width="0.2">Sensitive</text>
<text transform="translate(321.40,136.30) rotate(-90) scale(0.95,1)" font-size="6.2" text-anchor="middle" fill="#333" stroke="#333" stroke-width="0.2">Insensitive</text>
<!--E-->
<defs><filter id="bl" x="-20%" y="-100%" width="140%" height="300%"><feGaussianBlur stdDeviation="0.6"/></filter><filter id="bl2" x="-20%" y="-100%" width="140%" height="300%"><feGaussianBlur stdDeviation="1.0"/></filter></defs>
<clipPath id="bc0"><rect x="320.5" y="206.9" width="116.10" height="19.10"/></clipPath>
<g clip-path="url(#bc0)">
<rect x="320.50" y="206.90" width="116.10" height="19.10" fill="rgb(194,194,194)"/>
<g filter="url(#bl)">
<rect x="320.50" y="204.90" width="2.00" height="23.10" fill="rgb(188,188,188)"/>
<rect x="322.50" y="204.90" width="2.50" height="23.10" fill="rgb(196,196,196)"/>
<rect x="325.00" y="204.90" width="1.00" height="23.10" fill="rgb(187,187,187)"/>
<rect x="326.00" y="204.90" width="3.00" height="23.10" fill="rgb(187,187,187)"/>
<rect x="329.00" y="204.90" width="2.00" height="23.10" fill="rgb(195,195,195)"/>
<rect x="331.00" y="204.90" width="1.00" height="23.10" fill="rgb(200,200,200)"/>
<rect x="332.00" y="204.90" width="3.00" height="23.10" fill="rgb(189,189,189)"/>
<rect x="335.00" y="204.90" width="1.00" height="23.10" fill="rgb(187,187,187)"/>
<rect x="336.00" y="204.90" width="2.50" height="23.10" fill="rgb(192,192,192)"/>
<rect x="338.50" y="204.90" width="1.00" height="23.10" fill="rgb(189,189,189)"/>
<rect x="339.50" y="204.90" width="1.00" height="23.10" fill="rgb(194,194,194)"/>
<rect x="340.50" y="204.90" width="2.50" height="23.10" fill="rgb(186,186,186)"/>
<rect x="343.00" y="204.90" width="3.00" height="23.10" fill="rgb(187,187,187)"/>
<rect x="346.00" y="204.90" width="1.50" height="23.10" fill="rgb(196,196,196)"/>
<rect x="347.50" y="204.90" width="4.00" height="23.10" fill="rgb(195,195,195)"/>
<rect x="351.50" y="204.90" width="1.00" height="23.10" fill="rgb(195,195,195)"/>
<rect x="352.50" y="204.90" width="3.00" height="23.10" fill="rgb(192,192,192)"/>
<rect x="355.50" y="204.90" width="1.00" height="23.10" fill="rgb(189,189,189)"/>
<rect x="356.50" y="204.90" width="1.00" height="23.10" fill="rgb(194,194,194)"/>
<rect x="357.50" y="204.90" width="1.50" height="23.10" fill="rgb(190,190,190)"/>
<rect x="359.00" y="204.90" width="2.50" height="23.10" fill="rgb(188,188,188)"/>
<rect x="361.50" y="204.90" width="3.00" height="23.10" fill="rgb(187,187,187)"/>
<rect x="364.50" y="204.90" width="3.00" height="23.10" fill="rgb(190,190,190)"/>
<rect x="367.50" y="204.90" width="3.00" height="23.10" fill="rgb(199,199,199)"/>
<rect x="370.50" y="204.90" width="4.00" height="23.10" fill="rgb(188,188,188)"/>
<rect x="374.50" y="204.90" width="1.00" height="23.10" fill="rgb(195,195,195)"/>
<rect x="375.50" y="204.90" width="3.00" height="23.10" fill="rgb(196,196,196)"/>
<rect x="378.50" y="204.90" width="1.50" height="23.10" fill="rgb(191,191,191)"/>
<rect x="380.00" y="204.90" width="1.00" height="23.10" fill="rgb(194,194,194)"/>
<rect x="381.00" y="204.90" width="4.00" height="23.10" fill="rgb(187,187,187)"/>
<rect x="385.00" y="204.90" width="3.00" height="23.10" fill="rgb(186,186,186)"/>
<rect x="388.00" y="204.90" width="3.00" height="23.10" fill="rgb(189,189,189)"/>
<rect x="391.00" y="204.90" width="2.50" height="23.10" fill="rgb(196,196,196)"/>
<rect x="393.50" y="204.90" width="3.00" height="23.10" fill="rgb(192,192,192)"/>
<rect x="396.50" y="204.90" width="2.00" height="23.10" fill="rgb(193,193,193)"/>
<rect x="398.50" y="204.90" width="3.00" height="23.10" fill="rgb(200,200,200)"/>
<rect x="401.50" y="204.90" width="2.50" height="23.10" fill="rgb(191,191,191)"/>
<rect x="404.00" y="204.90" width="2.00" height="23.10" fill="rgb(189,189,189)"/>
<rect x="406.00" y="204.90" width="1.50" height="23.10" fill="rgb(197,197,197)"/>
<rect x="407.50" y="204.90" width="1.50" height="23.10" fill="rgb(187,187,187)"/>
<rect x="409.00" y="204.90" width="3.00" height="23.10" fill="rgb(190,190,190)"/>
<rect x="412.00" y="204.90" width="3.00" height="23.10" fill="rgb(193,193,193)"/>
<rect x="415.00" y="204.90" width="2.00" height="23.10" fill="rgb(197,197,197)"/>
<rect x="417.00" y="204.90" width="2.50" height="23.10" fill="rgb(190,190,190)"/>
<rect x="419.50" y="204.90" width="3.00" height="23.10" fill="rgb(187,187,187)"/>
<rect x="422.50" y="204.90" width="1.00" height="23.10" fill="rgb(194,194,194)"/>
<rect x="423.50" y="204.90" width="2.50" height="23.10" fill="rgb(188,188,188)"/>
<rect x="426.00" y="204.90" width="2.00" height="23.10" fill="rgb(188,188,188)"/>
<rect x="428.00" y="204.90" width="2.50" height="23.10" fill="rgb(192,192,192)"/>
<rect x="430.50" y="204.90" width="1.00" height="23.10" fill="rgb(196,196,196)"/>
<rect x="431.50" y="204.90" width="1.00" height="23.10" fill="rgb(198,198,198)"/>
<rect x="432.50" y="204.90" width="3.00" height="23.10" fill="rgb(195,195,195)"/>
<rect x="435.50" y="204.90" width="1.10" height="23.10" fill="rgb(191,191,191)"/>
</g>
</g>
<rect x="321.70" y="208.10" width="113.70" height="16.70" fill="none" stroke="#e4e4e4" stroke-width="0.9" opacity="0.8"/>
<clipPath id="bc1"><rect x="320.5" y="228.5" width="116.10" height="22.20"/></clipPath>
<g clip-path="url(#bc1)">
<rect x="320.50" y="228.50" width="116.10" height="22.20" fill="rgb(210,210,210)"/>
<g filter="url(#bl)">
<rect x="320.50" y="226.50" width="4.00" height="26.20" fill="rgb(210,210,210)"/>
<rect x="324.50" y="226.50" width="3.00" height="26.20" fill="rgb(212,212,212)"/>
<rect x="327.50" y="226.50" width="3.00" height="26.20" fill="rgb(212,212,212)"/>
<rect x="330.50" y="226.50" width="1.00" height="26.20" fill="rgb(206,206,206)"/>
<rect x="331.50" y="226.50" width="2.00" height="26.20" fill="rgb(212,212,212)"/>
<rect x="333.50" y="226.50" width="4.00" height="26.20" fill="rgb(206,206,206)"/>
<rect x="337.50" y="226.50" width="1.00" height="26.20" fill="rgb(209,209,209)"/>
<rect x="338.50" y="226.50" width="4.00" height="26.20" fill="rgb(212,212,212)"/>
<rect x="342.50" y="226.50" width="2.00" height="26.20" fill="rgb(211,211,211)"/>
<rect x="344.50" y="226.50" width="4.00" height="26.20" fill="rgb(210,210,210)"/>
<rect x="348.50" y="226.50" width="1.00" height="26.20" fill="rgb(212,212,212)"/>
<rect x="349.50" y="226.50" width="2.00" height="26.20" fill="rgb(207,207,207)"/>
<rect x="351.50" y="226.50" width="3.00" height="26.20" fill="rgb(206,206,206)"/>
<rect x="354.50" y="226.50" width="2.50" height="26.20" fill="rgb(205,205,205)"/>
<rect x="357.00" y="226.50" width="1.50" height="26.20" fill="rgb(209,209,209)"/>
<rect x="358.50" y="226.50" width="1.50" height="26.20" fill="rgb(208,208,208)"/>
<rect x="360.00" y="226.50" width="2.50" height="26.20" fill="rgb(211,211,211)"/>
<rect x="362.50" y="226.50" width="2.50" height="26.20" fill="rgb(206,206,206)"/>
<rect x="365.00" y="226.50" width="1.50" height="26.20" fill="rgb(212,212,212)"/>
<rect x="366.50" y="226.50" width="2.50" height="26.20" fill="rgb(213,213,213)"/>
<rect x="369.00" y="226.50" width="2.00" height="26.20" fill="rgb(207,207,207)"/>
<rect x="371.00" y="226.50" width="2.50" height="26.20" fill="rgb(213,213,213)"/>
<rect x="373.50" y="226.50" width="2.00" height="26.20" fill="rgb(211,211,211)"/>
<rect x="375.50" y="226.50" width="2.00" height="26.20" fill="rgb(211,211,211)"/>
<rect x="377.50" y="226.50" width="1.50" height="26.20" fill="rgb(207,207,207)"/>
<rect x="379.00" y="226.50" width="1.00" height="26.20" fill="rgb(207,207,207)"/>
<rect x="380.00" y="226.50" width="1.50" height="26.20" fill="rgb(208,208,208)"/>
<rect x="381.50" y="226.50" width="4.00" height="26.20" fill="rgb(208,208,208)"/>
<rect x="385.50" y="226.50" width="1.00" height="26.20" fill="rgb(212,212,212)"/>
<rect x="386.50" y="226.50" width="3.00" height="26.20" fill="rgb(207,207,207)"/>
<rect x="389.50" y="226.50" width="2.00" height="26.20" fill="rgb(209,209,209)"/>
<rect x="391.50" y="226.50" width="1.00" height="26.20" fill="rgb(207,207,207)"/>
<rect x="392.50" y="226.50" width="2.50" height="26.20" fill="rgb(213,213,213)"/>
<rect x="395.00" y="226.50" width="2.00" height="26.20" fill="rgb(210,210,210)"/>
<rect x="397.00" y="226.50" width="1.50" height="26.20" fill="rgb(213,213,213)"/>
<rect x="398.50" y="226.50" width="3.00" height="26.20" fill="rgb(205,205,205)"/>
<rect x="401.50" y="226.50" width="2.50" height="26.20" fill="rgb(213,213,213)"/>
<rect x="404.00" y="226.50" width="2.50" height="26.20" fill="rgb(211,211,211)"/>
<rect x="406.50" y="226.50" width="2.50" height="26.20" fill="rgb(211,211,211)"/>
<rect x="409.00" y="226.50" width="1.00" height="26.20" fill="rgb(212,212,212)"/>
<rect x="410.00" y="226.50" width="4.00" height="26.20" fill="rgb(211,211,211)"/>
<rect x="414.00" y="226.50" width="1.00" height="26.20" fill="rgb(208,208,208)"/>
<rect x="415.00" y="226.50" width="1.00" height="26.20" fill="rgb(208,208,208)"/>
<rect x="416.00" y="226.50" width="2.50" height="26.20" fill="rgb(207,207,207)"/>
<rect x="418.50" y="226.50" width="1.00" height="26.20" fill="rgb(210,210,210)"/>
<rect x="419.50" y="226.50" width="3.00" height="26.20" fill="rgb(205,205,205)"/>
<rect x="422.50" y="226.50" width="1.00" height="26.20" fill="rgb(205,205,205)"/>
<rect x="423.50" y="226.50" width="3.00" height="26.20" fill="rgb(207,207,207)"/>
<rect x="426.50" y="226.50" width="3.00" height="26.20" fill="rgb(206,206,206)"/>
<rect x="429.50" y="226.50" width="2.00" height="26.20" fill="rgb(205,205,205)"/>
<rect x="431.50" y="226.50" width="1.00" height="26.20" fill="rgb(208,208,208)"/>
<rect x="432.50" y="226.50" width="3.00" height="26.20" fill="rgb(211,211,211)"/>
<rect x="435.50" y="226.50" width="1.10" height="26.20" fill="rgb(209,209,209)"/>
</g>
<ellipse cx="338" cy="239.5" rx="20" ry="9" fill="#9a9a9a" opacity="0.25" filter="url(#bl2)"/>
</g>
<rect x="321.70" y="229.70" width="113.70" height="19.80" fill="none" stroke="#e4e4e4" stroke-width="0.9" opacity="0.8"/>
<clipPath id="bc2"><rect x="320.5" y="254.9" width="116.10" height="27.10"/></clipPath>
<g clip-path="url(#bc2)">
<rect x="320.50" y="254.90" width="116.10" height="27.10" fill="rgb(197,197,197)"/>
<g filter="url(#bl)">
<rect x="320.50" y="252.90" width="2.00" height="31.10" fill="rgb(199,199,199)"/>
<rect x="322.50" y="252.90" width="2.50" height="31.10" fill="rgb(191,191,191)"/>
<rect x="325.00" y="252.90" width="1.00" height="31.10" fill="rgb(203,203,203)"/>
<rect x="326.00" y="252.90" width="2.50" height="31.10" fill="rgb(203,203,203)"/>
<rect x="328.50" y="252.90" width="2.50" height="31.10" fill="rgb(197,197,197)"/>
<rect x="331.00" y="252.90" width="1.00" height="31.10" fill="rgb(192,192,192)"/>
<rect x="332.00" y="252.90" width="1.00" height="31.10" fill="rgb(198,198,198)"/>
<rect x="333.00" y="252.90" width="4.00" height="31.10" fill="rgb(196,196,196)"/>
<rect x="337.00" y="252.90" width="2.50" height="31.10" fill="rgb(193,193,193)"/>
<rect x="339.50" y="252.90" width="3.00" height="31.10" fill="rgb(188,188,188)"/>
<rect x="342.50" y="252.90" width="1.50" height="31.10" fill="rgb(204,204,204)"/>
<rect x="344.00" y="252.90" width="2.00" height="31.10" fill="rgb(192,192,192)"/>
<rect x="346.00" y="252.90" width="4.00" height="31.10" fill="rgb(188,188,188)"/>
<rect x="350.00" y="252.90" width="3.00" height="31.10" fill="rgb(197,197,197)"/>
<rect x="353.00" y="252.90" width="4.00" height="31.10" fill="rgb(190,190,190)"/>
<rect x="357.00" y="252.90" width="4.00" height="31.10" fill="rgb(196,196,196)"/>
<rect x="361.00" y="252.90" width="3.00" height="31.10" fill="rgb(199,199,199)"/>
<rect x="364.00" y="252.90" width="1.50" height="31.10" fill="rgb(199,199,199)"/>
<rect x="365.50" y="252.90" width="1.50" height="31.10" fill="rgb(204,204,204)"/>
<rect x="367.00" y="252.90" width="2.00" height="31.10" fill="rgb(195,195,195)"/>
<rect x="369.00" y="252.90" width="3.00" height="31.10" fill="rgb(194,194,194)"/>
<rect x="372.00" y="252.90" width="1.50" height="31.10" fill="rgb(200,200,200)"/>
<rect x="373.50" y="252.90" width="4.00" height="31.10" fill="rgb(195,195,195)"/>
<rect x="377.50" y="252.90" width="1.50" height="31.10" fill="rgb(204,204,204)"/>
<rect x="379.00" y="252.90" width="2.50" height="31.10" fill="rgb(199,199,199)"/>
<rect x="381.50" y="252.90" width="4.00" height="31.10" fill="rgb(188,188,188)"/>
<rect x="385.50" y="252.90" width="1.00" height="31.10" fill="rgb(196,196,196)"/>
<rect x="386.50" y="252.90" width="2.50" height="31.10" fill="rgb(196,196,196)"/>
<rect x="389.00" y="252.90" width="1.50" height="31.10" fill="rgb(199,199,199)"/>
<rect x="390.50" y="252.90" width="2.50" height="31.10" fill="rgb(199,199,199)"/>
<rect x="393.00" y="252.90" width="2.00" height="31.10" fill="rgb(190,190,190)"/>
<rect x="395.00" y="252.90" width="1.50" height="31.10" fill="rgb(191,191,191)"/>
<rect x="396.50" y="252.90" width="1.50" height="31.10" fill="rgb(203,203,203)"/>
<rect x="398.00" y="252.90" width="1.50" height="31.10" fill="rgb(198,198,198)"/>
<rect x="399.50" y="252.90" width="1.50" height="31.10" fill="rgb(203,203,203)"/>
<rect x="401.00" y="252.90" width="3.00" height="31.10" fill="rgb(188,188,188)"/>
<rect x="404.00" y="252.90" width="2.50" height="31.10" fill="rgb(199,199,199)"/>
<rect x="406.50" y="252.90" width="4.00" height="31.10" fill="rgb(190,190,190)"/>
<rect x="410.50" y="252.90" width="4.00" height="31.10" fill="rgb(191,191,191)"/>
<rect x="414.50" y="252.90" width="2.50" height="31.10" fill="rgb(194,194,194)"/>
<rect x="417.00" y="252.90" width="2.50" height="31.10" fill="rgb(193,193,193)"/>
<rect x="419.50" y="252.90" width="2.50" height="31.10" fill="rgb(198,198,198)"/>
<rect x="422.00" y="252.90" width="1.00" height="31.10" fill="rgb(200,200,200)"/>
<rect x="423.00" y="252.90" width="2.50" height="31.10" fill="rgb(200,200,200)"/>
<rect x="425.50" y="252.90" width="4.00" height="31.10" fill="rgb(190,190,190)"/>
<rect x="429.50" y="252.90" width="4.00" height="31.10" fill="rgb(193,193,193)"/>
<rect x="433.50" y="252.90" width="1.50" height="31.10" fill="rgb(192,192,192)"/>
<rect x="435.00" y="252.90" width="1.00" height="31.10" fill="rgb(192,192,192)"/>
<rect x="436.00" y="252.90" width="0.60" height="31.10" fill="rgb(202,202,202)"/>
</g>
</g>
<rect x="321.70" y="256.10" width="113.70" height="24.70" fill="none" stroke="#e4e4e4" stroke-width="0.9" opacity="0.8"/>
<path d="M324.90,215.70 L347.30,215.00 Q348.40,215.00 348.40,216.30 Q348.40,217.60 347.30,217.60 L324.90,217.90 Q323.80,217.90 323.80,216.80 Q323.80,215.70 324.90,215.70Z" fill="#4d4d4d" filter="url(#bl)"/>
<path d="M354.30,215.80 L375.30,214.65 Q376.40,214.65 376.40,215.90 Q376.40,217.15 375.30,217.15 L354.30,218.00 Q353.20,218.00 353.20,216.90 Q353.20,215.80 354.30,215.80Z" fill="#505050" filter="url(#bl)"/>
<path d="M383.10,214.90 L404.70,213.75 Q405.80,213.75 405.80,215.00 Q405.80,216.25 404.70,216.25 L383.10,217.10 Q382.00,217.10 382.00,216.00 Q382.00,214.90 383.10,214.90Z" fill="#555" filter="url(#bl)"/>
<path d="M412.40,214.40 L432.60,213.90 Q433.80,213.90 433.80,215.20 Q433.80,216.50 432.60,216.50 L412.40,216.80 Q411.20,216.80 411.20,215.60 Q411.20,214.40 412.40,214.40Z" fill="#4e4e4e" filter="url(#bl)"/>
<path d="M326.70,238.20 L347.40,236.80 Q348.60,236.80 348.60,238.90 Q348.60,241.00 347.40,241.00 L326.70,240.60 Q325.50,240.60 325.50,239.40 Q325.50,238.20 326.70,238.20Z" fill="#0c0c0c" filter="url(#bl)"/>
<path d="M356.20,237.20 L374.60,236.70 Q376.00,236.70 376.00,238.20 Q376.00,239.70 374.60,239.70 L356.20,240.00 Q354.80,240.00 354.80,238.60 Q354.80,237.20 356.20,237.20Z" fill="#a2a2a2" filter="url(#bl)"/>
<path d="M384.40,237.00 L404.10,236.90 Q405.50,236.90 405.50,238.40 Q405.50,239.90 404.10,239.90 L384.40,239.80 Q383.00,239.80 383.00,238.40 Q383.00,237.00 384.40,237.00Z" fill="#808080" filter="url(#bl)"/>
<path d="M412.70,237.60 L431.80,237.40 Q433.00,237.40 433.00,238.60 Q433.00,239.80 431.80,239.80 L412.70,240.00 Q411.50,240.00 411.50,238.80 Q411.50,237.60 412.70,237.60Z" fill="#b4b4b4" filter="url(#bl)"/>
<path d="M326.10,268.10 L346.10,267.30 Q347.60,267.30 347.60,269.10 Q347.60,270.90 346.10,270.90 L326.10,271.10 Q324.60,271.10 324.60,269.60 Q324.60,268.10 326.10,268.10Z" fill="#080808" filter="url(#bl)"/>
<path d="M355.10,268.30 L374.50,267.90 Q375.40,267.90 375.40,268.90 Q375.40,269.90 374.50,269.90 L355.10,270.10 Q354.20,270.10 354.20,269.20 Q354.20,268.30 355.10,268.30Z" fill="#666" filter="url(#bl)"/>
<rect x="320.50" y="206.90" width="116.10" height="19.10" fill="none" stroke="#2a2a2a" stroke-width="1"/>
<rect x="320.50" y="228.50" width="116.10" height="22.20" fill="none" stroke="#2a2a2a" stroke-width="1"/>
<rect x="320.50" y="254.90" width="116.10" height="27.10" fill="none" stroke="#2a2a2a" stroke-width="1"/>
<text transform="translate(346.30,189.38)" font-size="6.1" text-anchor="middle" fill="#222" stroke="#222" stroke-width="0.2">HL60</text>
<text transform="translate(407.20,189.18)" font-size="6.1" text-anchor="middle" fill="#222" stroke="#222" stroke-width="0.2">MOLM13</text>
<line x1="324.20" y1="193.80" x2="368.00" y2="193.80" stroke="#555" stroke-width="1.1"/>
<line x1="385.40" y1="193.70" x2="429.40" y2="193.70" stroke="#555" stroke-width="1.1"/>
<text transform="translate(317.60,202.78)" font-size="6.1" text-anchor="end" fill="#222" stroke="#222" stroke-width="0.2">Cystine</text>
<text transform="translate(335.80,202.78)" font-size="6.1" text-anchor="middle" fill="#222" stroke="#222" stroke-width="0.2">–</text>
<text transform="translate(364.20,202.78)" font-size="6.1" text-anchor="middle" fill="#222" stroke="#222" stroke-width="0.2">+</text>
<text transform="translate(393.40,202.78)" font-size="6.1" text-anchor="middle" fill="#222" stroke="#222" stroke-width="0.2">–</text>
<text transform="translate(422.00,202.78)" font-size="6.1" text-anchor="middle" fill="#222" stroke="#222" stroke-width="0.2">+</text>
<text transform="translate(317.20,218.68)" font-size="6.1" text-anchor="end" fill="#222" stroke="#222" stroke-width="0.2">40</text>
<text transform="translate(317.20,240.08)" font-size="6.1" text-anchor="end" fill="#222" stroke="#222" stroke-width="0.2">19</text>
<text transform="translate(317.20,250.18)" font-size="6.1" text-anchor="end" fill="#222" stroke="#222" stroke-width="0.2">17</text>
<text transform="translate(317.20,271.78)" font-size="6.1" text-anchor="end" fill="#222" stroke="#222" stroke-width="0.2">89</text>
<text transform="translate(439.90,218.98)" font-size="6.1" text-anchor="start" fill="#222" stroke="#222" stroke-width="0.2">β-actin</text>
<text transform="translate(439.90,241.98)" font-size="6.1" text-anchor="start" fill="#222" stroke="#222" stroke-width="0.2">Cleaved caspase 3</text>
<text transform="translate(439.90,270.48)" font-size="6.1" text-anchor="start" fill="#222" stroke="#222" stroke-width="0.2">Cleaved PARP</text>
<!--D-->
<text transform="translate(122.50,337.37)" font-size="8.3" text-anchor="middle" fill="#1a1a1a" stroke="#1a1a1a" stroke-width="0.2">AML #1</text>
<rect x="54.05" y="429.71" width="2.72" height="1.49" fill="#0f5a3c"/>
<rect x="56.77" y="430.61" width="2.72" height="0.59" fill="#3aa142"/>
<rect x="59.49" y="426.44" width="2.72" height="4.76" fill="#f4be2e"/>
<rect x="62.21" y="425.25" width="2.72" height="5.95" fill="#ec8a1e"/>
<rect x="69.90" y="428.23" width="2.72" height="2.97" fill="#0f5a3c"/>
<rect x="72.62" y="428.23" width="2.72" height="2.97" fill="#3aa142"/>
<rect x="75.34" y="422.28" width="2.72" height="8.92" fill="#f4be2e"/>
<rect x="78.06" y="424.07" width="2.72" height="7.13" fill="#ec8a1e"/>
<rect x="85.75" y="428.82" width="2.72" height="2.38" fill="#0f5a3c"/>
<rect x="88.47" y="428.52" width="2.72" height="2.68" fill="#3aa142"/>
<rect x="91.19" y="422.28" width="2.72" height="8.92" fill="#f4be2e"/>
<rect x="93.91" y="425.25" width="2.72" height="5.95" fill="#ec8a1e"/>
<rect x="101.60" y="428.23" width="2.72" height="2.97" fill="#0f5a3c"/>
<rect x="104.32" y="427.04" width="2.72" height="4.16" fill="#3aa142"/>
<rect x="107.04" y="418.42" width="2.72" height="12.78" fill="#f4be2e"/>
<rect x="109.76" y="423.47" width="2.72" height="7.73" fill="#ec8a1e"/>
<rect x="117.45" y="421.99" width="2.72" height="9.21" fill="#0f5a3c"/>
<rect x="120.17" y="411.58" width="2.72" height="19.62" fill="#3aa142"/>
<rect x="122.89" y="372.64" width="2.72" height="58.56" fill="#f4be2e"/>
<rect x="125.61" y="412.18" width="2.72" height="19.02" fill="#ec8a1e"/>
<rect x="133.30" y="419.31" width="2.72" height="11.89" fill="#0f5a3c"/>
<rect x="136.02" y="410.99" width="2.72" height="20.21" fill="#3aa142"/>
<rect x="138.74" y="362.54" width="2.72" height="68.66" fill="#f4be2e"/>
<rect x="141.46" y="407.42" width="2.72" height="23.78" fill="#ec8a1e"/>
<rect x="149.15" y="419.01" width="2.72" height="12.19" fill="#0f5a3c"/>
<rect x="151.87" y="410.10" width="2.72" height="21.10" fill="#3aa142"/>
<rect x="154.59" y="365.21" width="2.72" height="65.99" fill="#f4be2e"/>
<rect x="157.31" y="399.99" width="2.72" height="31.21" fill="#ec8a1e"/>
<rect x="165.00" y="418.12" width="2.72" height="13.08" fill="#0f5a3c"/>
<rect x="167.72" y="411.28" width="2.72" height="19.92" fill="#3aa142"/>
<rect x="170.44" y="354.21" width="2.72" height="76.99" fill="#f4be2e"/>
<rect x="173.16" y="393.75" width="2.72" height="37.45" fill="#ec8a1e"/>
<rect x="180.85" y="415.15" width="2.72" height="16.05" fill="#0f5a3c"/>
<rect x="183.57" y="410.99" width="2.72" height="20.21" fill="#3aa142"/>
<rect x="186.29" y="357.48" width="2.72" height="73.72" fill="#f4be2e"/>
<rect x="189.01" y="395.53" width="2.72" height="35.67" fill="#ec8a1e"/>
<line x1="51.50" y1="346.30" x2="51.50" y2="431.80" stroke="#222" stroke-width="1.2"/>
<line x1="50.90" y1="431.20" x2="194.00" y2="431.20" stroke="#222" stroke-width="1.2"/>
<line x1="48.50" y1="431.20" x2="51.50" y2="431.20" stroke="#222" stroke-width="1"/>
<text transform="translate(44.90,433.60)" font-size="6.7" text-anchor="end" fill="#2a2a2a" stroke="#2a2a2a" stroke-width="0.2">0</text>
<line x1="48.50" y1="419.31" x2="51.50" y2="419.31" stroke="#222" stroke-width="1"/>
<text x="45.40" y="421.67" font-size="6.6" text-anchor="end" fill="#2a2a2a" stroke="#2a2a2a" stroke-width="0.2">2.0 × 10<tspan font-size="4.4" dy="-2.8">5</tspan></text>
<line x1="48.50" y1="407.42" x2="51.50" y2="407.42" stroke="#222" stroke-width="1"/>
<text x="45.40" y="409.78" font-size="6.6" text-anchor="end" fill="#2a2a2a" stroke="#2a2a2a" stroke-width="0.2">4.0 × 10<tspan font-size="4.4" dy="-2.8">5</tspan></text>
<line x1="48.50" y1="395.53" x2="51.50" y2="395.53" stroke="#222" stroke-width="1"/>
<text x="45.40" y="397.89" font-size="6.6" text-anchor="end" fill="#2a2a2a" stroke="#2a2a2a" stroke-width="0.2">6.0 × 10<tspan font-size="4.4" dy="-2.8">5</tspan></text>
<line x1="48.50" y1="383.64" x2="51.50" y2="383.64" stroke="#222" stroke-width="1"/>
<text x="45.40" y="386.00" font-size="6.6" text-anchor="end" fill="#2a2a2a" stroke="#2a2a2a" stroke-width="0.2">8.0 × 10<tspan font-size="4.4" dy="-2.8">5</tspan></text>
<line x1="48.50" y1="371.75" x2="51.50" y2="371.75" stroke="#222" stroke-width="1"/>
<text x="45.40" y="374.11" font-size="6.6" text-anchor="end" fill="#2a2a2a" stroke="#2a2a2a" stroke-width="0.2">1.0 × 10<tspan font-size="4.4" dy="-2.8">6</tspan></text>
<line x1="48.50" y1="359.86" x2="51.50" y2="359.86" stroke="#222" stroke-width="1"/>
<text x="45.40" y="362.22" font-size="6.6" text-anchor="end" fill="#2a2a2a" stroke="#2a2a2a" stroke-width="0.2">1.2 × 10<tspan font-size="4.4" dy="-2.8">6</tspan></text>
<line x1="48.50" y1="347.97" x2="51.50" y2="347.97" stroke="#222" stroke-width="1"/>
<text x="45.40" y="350.33" font-size="6.6" text-anchor="end" fill="#2a2a2a" stroke="#2a2a2a" stroke-width="0.2">1.4 × 10<tspan font-size="4.4" dy="-2.8">6</tspan></text>
<line x1="59.50" y1="431.20" x2="59.50" y2="433.80" stroke="#222" stroke-width="1"/>
<text transform="translate(61.40,438.60) rotate(-45)" font-size="6.6" text-anchor="end" fill="#2a2a2a" stroke="#2a2a2a" stroke-width="0.2">0</text>
<line x1="75.35" y1="431.20" x2="75.35" y2="433.80" stroke="#222" stroke-width="1"/>
<text transform="translate(77.25,438.60) rotate(-45)" font-size="6.6" text-anchor="end" fill="#2a2a2a" stroke="#2a2a2a" stroke-width="0.2">0.005</text>
<line x1="91.20" y1="431.20" x2="91.20" y2="433.80" stroke="#222" stroke-width="1"/>
<text transform="translate(93.10,438.60) rotate(-45)" font-size="6.6" text-anchor="end" fill="#2a2a2a" stroke="#2a2a2a" stroke-width="0.2">0.01</text>
<line x1="107.05" y1="431.20" x2="107.05" y2="433.80" stroke="#222" stroke-width="1"/>
<text transform="translate(108.95,438.60) rotate(-45)" font-size="6.6" text-anchor="end" fill="#2a2a2a" stroke="#2a2a2a" stroke-width="0.2">0.025</text>
<line x1="122.90" y1="431.20" x2="122.90" y2="433.80" stroke="#222" stroke-width="1"/>
<text transform="translate(124.80,438.60) rotate(-45)" font-size="6.6" text-anchor="end" fill="#2a2a2a" stroke="#2a2a2a" stroke-width="0.2">0.05</text>
<line x1="138.75" y1="431.20" x2="138.75" y2="433.80" stroke="#222" stroke-width="1"/>
<text transform="translate(140.65,438.60) rotate(-45)" font-size="6.6" text-anchor="end" fill="#2a2a2a" stroke="#2a2a2a" stroke-width="0.2">0.1</text>
<line x1="154.60" y1="431.20" x2="154.60" y2="433.80" stroke="#222" stroke-width="1"/>
<text transform="translate(156.50,438.60) rotate(-45)" font-size="6.6" text-anchor="end" fill="#2a2a2a" stroke="#2a2a2a" stroke-width="0.2">0.2</text>
<line x1="170.45" y1="431.20" x2="170.45" y2="433.80" stroke="#222" stroke-width="1"/>
<text transform="translate(172.35,438.60) rotate(-45)" font-size="6.6" text-anchor="end" fill="#2a2a2a" stroke="#2a2a2a" stroke-width="0.2">0.4</text>
<line x1="186.30" y1="431.20" x2="186.30" y2="433.80" stroke="#222" stroke-width="1"/>
<text transform="translate(188.20,438.60) rotate(-45)" font-size="6.6" text-anchor="end" fill="#2a2a2a" stroke="#2a2a2a" stroke-width="0.2">0.6</text>
<text transform="translate(122.50,462.42) scale(0.79,1)" font-size="7.6" text-anchor="middle" fill="#2a2a2a" stroke="#2a2a2a" stroke-width="0.2">Cystine (mM)</text>
<text transform="translate(13.70,388.75) rotate(-90) scale(0.777,1)" font-size="7.6" text-anchor="middle" fill="#2a2a2a" stroke="#2a2a2a" stroke-width="0.2">Cell counts</text>
<rect x="57.80" y="351.20" width="2.60" height="2.60" fill="#0f5a3c"/>
<text transform="translate(63.20,354.86)" font-size="6.6" text-anchor="start" fill="#2a2a2a" stroke="#2a2a2a" stroke-width="0.2">CD34+CD38–</text>
<rect x="57.80" y="361.05" width="2.60" height="2.60" fill="#3aa142"/>
<text transform="translate(63.20,364.71)" font-size="6.6" text-anchor="start" fill="#2a2a2a" stroke="#2a2a2a" stroke-width="0.2">CD34+CD38+</text>
<rect x="57.80" y="370.90" width="2.60" height="2.60" fill="#f4be2e"/>
<text transform="translate(63.20,374.56)" font-size="6.6" text-anchor="start" fill="#2a2a2a" stroke="#2a2a2a" stroke-width="0.2">CD34–CD38+</text>
<rect x="57.80" y="380.75" width="2.60" height="2.60" fill="#ec8a1e"/>
<text transform="translate(63.20,384.41)" font-size="6.6" text-anchor="start" fill="#2a2a2a" stroke="#2a2a2a" stroke-width="0.2">CD34–CD38–</text>
<text transform="translate(122.00,484.87)" font-size="8.3" text-anchor="middle" fill="#1a1a1a" stroke="#1a1a1a" stroke-width="0.2">AML #2</text>
<rect x="53.95" y="576.45" width="2.72" height="2.05" fill="#0f5a3c"/>
<rect x="56.67" y="576.45" width="2.72" height="2.05" fill="#3aa142"/>
<rect x="69.63" y="575.42" width="2.72" height="3.07" fill="#0f5a3c"/>
<rect x="72.35" y="574.40" width="2.72" height="4.10" fill="#3aa142"/>
<rect x="85.31" y="576.96" width="2.72" height="1.54" fill="#0f5a3c"/>
<rect x="88.03" y="575.42" width="2.72" height="3.07" fill="#3aa142"/>
<rect x="100.99" y="574.40" width="2.72" height="4.10" fill="#0f5a3c"/>
<rect x="103.71" y="570.81" width="2.72" height="7.69" fill="#3aa142"/>
<rect x="116.67" y="571.07" width="2.72" height="7.43" fill="#0f5a3c"/>
<rect x="119.39" y="531.86" width="2.72" height="46.64" fill="#3aa142"/>
<rect x="132.35" y="567.99" width="2.72" height="10.51" fill="#0f5a3c"/>
<rect x="135.07" y="505.73" width="2.72" height="72.77" fill="#3aa142"/>
<rect x="148.03" y="570.04" width="2.72" height="8.46" fill="#0f5a3c"/>
<rect x="150.75" y="524.17" width="2.72" height="54.32" fill="#3aa142"/>
<rect x="163.71" y="570.30" width="2.72" height="8.20" fill="#0f5a3c"/>
<rect x="166.43" y="523.15" width="2.72" height="55.35" fill="#3aa142"/>
<rect x="179.39" y="567.99" width="2.72" height="10.51" fill="#0f5a3c"/>
<rect x="182.11" y="507.77" width="2.72" height="70.73" fill="#3aa142"/>
<line x1="51.00" y1="493.60" x2="51.00" y2="579.10" stroke="#222" stroke-width="1.2"/>
<line x1="50.40" y1="578.50" x2="193.50" y2="578.50" stroke="#222" stroke-width="1.2"/>
<line x1="48.00" y1="578.50" x2="51.00" y2="578.50" stroke="#222" stroke-width="1"/>
<text transform="translate(44.40,580.90)" font-size="6.7" text-anchor="end" fill="#2a2a2a" stroke="#2a2a2a" stroke-width="0.2">0</text>
<line x1="48.00" y1="568.25" x2="51.00" y2="568.25" stroke="#222" stroke-width="1"/>
<text x="45.80" y="570.43" font-size="6.1" text-anchor="end" fill="#2a2a2a" stroke="#2a2a2a" stroke-width="0.2">2.0 x 10<tspan font-size="4.4" dy="-2.8">5</tspan></text>
<line x1="48.00" y1="558.00" x2="51.00" y2="558.00" stroke="#222" stroke-width="1"/>
<text x="45.80" y="560.18" font-size="6.1" text-anchor="end" fill="#2a2a2a" stroke="#2a2a2a" stroke-width="0.2">4.0 x 10<tspan font-size="4.4" dy="-2.8">5</tspan></text>
<line x1="48.00" y1="547.75" x2="51.00" y2="547.75" stroke="#222" stroke-width="1"/>
<text x="45.80" y="549.93" font-size="6.1" text-anchor="end" fill="#2a2a2a" stroke="#2a2a2a" stroke-width="0.2">6.0 x 10<tspan font-size="4.4" dy="-2.8">5</tspan></text>
<line x1="48.00" y1="537.50" x2="51.00" y2="537.50" stroke="#222" stroke-width="1"/>
<text x="45.80" y="539.68" font-size="6.1" text-anchor="end" fill="#2a2a2a" stroke="#2a2a2a" stroke-width="0.2">8.0 x 10<tspan font-size="4.4" dy="-2.8">5</tspan></text>
<line x1="48.00" y1="527.25" x2="51.00" y2="527.25" stroke="#222" stroke-width="1"/>
<text x="45.80" y="529.43" font-size="6.1" text-anchor="end" fill="#2a2a2a" stroke="#2a2a2a" stroke-width="0.2">1.0 x 10<tspan font-size="4.4" dy="-2.8">6</tspan></text>
<line x1="48.00" y1="517.00" x2="51.00" y2="517.00" stroke="#222" stroke-width="1"/>
<text x="45.80" y="519.18" font-size="6.1" text-anchor="end" fill="#2a2a2a" stroke="#2a2a2a" stroke-width="0.2">1.2 x 10<tspan font-size="4.4" dy="-2.8">6</tspan></text>
<line x1="48.00" y1="506.75" x2="51.00" y2="506.75" stroke="#222" stroke-width="1"/>
<text x="45.80" y="508.93" font-size="6.1" text-anchor="end" fill="#2a2a2a" stroke="#2a2a2a" stroke-width="0.2">1.4 x 10<tspan font-size="4.4" dy="-2.8">6</tspan></text>
<line x1="48.00" y1="496.50" x2="51.00" y2="496.50" stroke="#222" stroke-width="1"/>
<text x="45.80" y="498.68" font-size="6.1" text-anchor="end" fill="#2a2a2a" stroke="#2a2a2a" stroke-width="0.2">1.6 x 10<tspan font-size="4.4" dy="-2.8">6</tspan></text>
<line x1="59.40" y1="578.50" x2="59.40" y2="581.10" stroke="#222" stroke-width="1"/>
<text transform="translate(61.30,585.90) rotate(-45)" font-size="6.6" text-anchor="end" fill="#2a2a2a" stroke="#2a2a2a" stroke-width="0.2">0</text>
<line x1="75.08" y1="578.50" x2="75.08" y2="581.10" stroke="#222" stroke-width="1"/>
<text transform="translate(76.98,585.90) rotate(-45)" font-size="6.6" text-anchor="end" fill="#2a2a2a" stroke="#2a2a2a" stroke-width="0.2">0.005</text>
<line x1="90.76" y1="578.50" x2="90.76" y2="581.10" stroke="#222" stroke-width="1"/>
<text transform="translate(92.66,585.90) rotate(-45)" font-size="6.6" text-anchor="end" fill="#2a2a2a" stroke="#2a2a2a" stroke-width="0.2">0.01</text>
<line x1="106.44" y1="578.50" x2="106.44" y2="581.10" stroke="#222" stroke-width="1"/>
<text transform="translate(108.34,585.90) rotate(-45)" font-size="6.6" text-anchor="end" fill="#2a2a2a" stroke="#2a2a2a" stroke-width="0.2">0.025</text>
<line x1="122.12" y1="578.50" x2="122.12" y2="581.10" stroke="#222" stroke-width="1"/>
<text transform="translate(124.02,585.90) rotate(-45)" font-size="6.6" text-anchor="end" fill="#2a2a2a" stroke="#2a2a2a" stroke-width="0.2">0.05</text>
<line x1="137.80" y1="578.50" x2="137.80" y2="581.10" stroke="#222" stroke-width="1"/>
<text transform="translate(139.70,585.90) rotate(-45)" font-size="6.6" text-anchor="end" fill="#2a2a2a" stroke="#2a2a2a" stroke-width="0.2">0.1</text>
<line x1="153.48" y1="578.50" x2="153.48" y2="581.10" stroke="#222" stroke-width="1"/>
<text transform="translate(155.38,585.90) rotate(-45)" font-size="6.6" text-anchor="end" fill="#2a2a2a" stroke="#2a2a2a" stroke-width="0.2">0.2</text>
<line x1="169.16" y1="578.50" x2="169.16" y2="581.10" stroke="#222" stroke-width="1"/>
<text transform="translate(171.06,585.90) rotate(-45)" font-size="6.6" text-anchor="end" fill="#2a2a2a" stroke="#2a2a2a" stroke-width="0.2">0.4</text>
<line x1="184.84" y1="578.50" x2="184.84" y2="581.10" stroke="#222" stroke-width="1"/>
<text transform="translate(186.74,585.90) rotate(-45)" font-size="6.6" text-anchor="end" fill="#2a2a2a" stroke="#2a2a2a" stroke-width="0.2">0.6</text>
<text transform="translate(122.00,610.32) scale(0.79,1)" font-size="7.6" text-anchor="middle" fill="#2a2a2a" stroke="#2a2a2a" stroke-width="0.2">Cystine (mM)</text>
<text transform="translate(15.40,536.05) rotate(-90) scale(0.777,1)" font-size="7.6" text-anchor="middle" fill="#2a2a2a" stroke="#2a2a2a" stroke-width="0.2">Cell counts</text>
<rect x="57.80" y="498.00" width="2.60" height="2.60" fill="#0f5a3c"/>
<text transform="translate(63.20,501.66)" font-size="6.6" text-anchor="start" fill="#2a2a2a" stroke="#2a2a2a" stroke-width="0.2">CD34+CD38–</text>
<rect x="57.80" y="508.20" width="2.60" height="2.60" fill="#3aa142"/>
<text transform="translate(63.20,511.86)" font-size="6.6" text-anchor="start" fill="#2a2a2a" stroke="#2a2a2a" stroke-width="0.2">CD34+CD38+</text>
<rect x="57.80" y="518.40" width="2.60" height="2.60" fill="#f4be2e"/>
<text transform="translate(63.20,522.06)" font-size="6.6" text-anchor="start" fill="#2a2a2a" stroke="#2a2a2a" stroke-width="0.2">CD34–CD38+</text>
<rect x="57.80" y="528.60" width="2.60" height="2.60" fill="#ec8a1e"/>
<text transform="translate(63.20,532.26)" font-size="6.6" text-anchor="start" fill="#2a2a2a" stroke="#2a2a2a" stroke-width="0.2">CD34–CD38–</text>
<!--F-->
<text transform="translate(281.90,332.01)" font-size="8.7" text-anchor="middle" fill="#1a1a1a" stroke="#1a1a1a" stroke-width="0.2">HL60</text>
<rect x="260.05" y="382.89" width="10.80" height="48.36" fill="#0d4a86"/>
<rect x="260.05" y="380.69" width="10.80" height="2.25" fill="#5d6ca6"/>
<rect x="260.05" y="377.95" width="10.80" height="2.79" fill="#9aa2c8"/>
<rect x="260.05" y="376.30" width="10.80" height="1.70" fill="#c6cadf"/>
<line x1="265.45" y1="431.20" x2="265.45" y2="433.80" stroke="#222" stroke-width="1"/>
<rect x="276.60" y="380.97" width="10.80" height="50.28" fill="#0d4a86"/>
<rect x="276.60" y="379.32" width="10.80" height="1.70" fill="#5d6ca6"/>
<rect x="276.60" y="377.40" width="10.80" height="1.97" fill="#9aa2c8"/>
<rect x="276.60" y="376.30" width="10.80" height="1.15" fill="#c6cadf"/>
<line x1="282.00" y1="431.20" x2="282.00" y2="433.80" stroke="#222" stroke-width="1"/>
<rect x="293.15" y="380.42" width="10.80" height="50.83" fill="#0d4a86"/>
<rect x="293.15" y="379.04" width="10.80" height="1.42" fill="#5d6ca6"/>
<rect x="293.15" y="377.40" width="10.80" height="1.70" fill="#9aa2c8"/>
<rect x="293.15" y="376.30" width="10.80" height="1.15" fill="#c6cadf"/>
<line x1="298.55" y1="431.20" x2="298.55" y2="433.80" stroke="#222" stroke-width="1"/>
<line x1="254.30" y1="346.00" x2="254.30" y2="431.80" stroke="#222" stroke-width="1.2"/>
<line x1="253.70" y1="431.20" x2="309.80" y2="431.20" stroke="#222" stroke-width="1.2"/>
<line x1="251.10" y1="431.20" x2="254.30" y2="431.20" stroke="#222" stroke-width="1"/>
<text transform="translate(248.40,433.60)" font-size="6.7" text-anchor="end" fill="#2a2a2a" stroke="#2a2a2a" stroke-width="0.2">0</text>
<line x1="251.10" y1="403.75" x2="254.30" y2="403.75" stroke="#222" stroke-width="1"/>
<text transform="translate(248.40,406.15)" font-size="6.7" text-anchor="end" fill="#2a2a2a" stroke="#2a2a2a" stroke-width="0.2">50</text>
<line x1="251.10" y1="376.30" x2="254.30" y2="376.30" stroke="#222" stroke-width="1"/>
<text transform="translate(248.40,378.70)" font-size="6.7" text-anchor="end" fill="#2a2a2a" stroke="#2a2a2a" stroke-width="0.2">100</text>
<line x1="251.10" y1="348.85" x2="254.30" y2="348.85" stroke="#222" stroke-width="1"/>
<text transform="translate(248.40,351.25)" font-size="6.7" text-anchor="end" fill="#2a2a2a" stroke="#2a2a2a" stroke-width="0.2">150</text>
<text transform="translate(265.45,443.10)" font-size="6.7" text-anchor="middle" fill="#2a2a2a" stroke="#2a2a2a" stroke-width="0.2">0</text>
<text transform="translate(282.00,443.10)" font-size="6.7" text-anchor="middle" fill="#2a2a2a" stroke="#2a2a2a" stroke-width="0.2">0.01</text>
<text transform="translate(298.55,443.10)" font-size="6.7" text-anchor="middle" fill="#2a2a2a" stroke="#2a2a2a" stroke-width="0.2">0.05</text>
<text transform="translate(281.60,454.52) scale(0.79,1)" font-size="7.6" text-anchor="middle" fill="#2a2a2a" stroke="#2a2a2a" stroke-width="0.2">Cystine (mM)</text>
<text transform="translate(232.00,388.60) rotate(-90) scale(0.768,1)" font-size="7.6" text-anchor="middle" fill="#2a2a2a" stroke="#2a2a2a" stroke-width="0.2">Freq. of singlets</text>
<rect x="260.70" y="340.30" width="5.60" height="5.40" fill="#c6cadf"/>
<text transform="translate(269.30,345.22)" font-size="6.2" text-anchor="start" fill="#2a2a2a" stroke="#2a2a2a" stroke-width="0.2">Non-Viable</text>
<rect x="260.70" y="348.90" width="5.60" height="5.40" fill="#9aa2c8"/>
<text transform="translate(269.30,353.82)" font-size="6.2" text-anchor="start" fill="#2a2a2a" stroke="#2a2a2a" stroke-width="0.2">Late Apoptotic</text>
<rect x="260.70" y="357.50" width="5.60" height="5.40" fill="#5d6ca6"/>
<text transform="translate(269.30,362.42)" font-size="6.2" text-anchor="start" fill="#2a2a2a" stroke="#2a2a2a" stroke-width="0.2">Early Apoptotic</text>
<rect x="260.70" y="366.10" width="5.60" height="5.40" fill="#0d4a86"/>
<text transform="translate(269.30,371.02)" font-size="6.2" text-anchor="start" fill="#2a2a2a" stroke="#2a2a2a" stroke-width="0.2">Viable</text>
<text transform="translate(383.00,332.01)" font-size="8.7" text-anchor="middle" fill="#1a1a1a" stroke="#1a1a1a" stroke-width="0.2">MOLM13</text>
<rect x="361.15" y="385.36" width="10.80" height="45.89" fill="#0d4a86"/>
<rect x="361.15" y="383.44" width="10.80" height="1.97" fill="#5d6ca6"/>
<rect x="361.15" y="380.14" width="10.80" height="3.34" fill="#9aa2c8"/>
<rect x="361.15" y="376.30" width="10.80" height="3.89" fill="#c6cadf"/>
<line x1="366.55" y1="431.20" x2="366.55" y2="433.80" stroke="#222" stroke-width="1"/>
<rect x="377.70" y="379.04" width="10.80" height="52.20" fill="#0d4a86"/>
<rect x="377.70" y="378.22" width="10.80" height="0.87" fill="#5d6ca6"/>
<rect x="377.70" y="377.12" width="10.80" height="1.15" fill="#9aa2c8"/>
<rect x="377.70" y="376.30" width="10.80" height="0.87" fill="#c6cadf"/>
<line x1="383.10" y1="431.20" x2="383.10" y2="433.80" stroke="#222" stroke-width="1"/>
<rect x="394.25" y="379.59" width="10.80" height="51.66" fill="#0d4a86"/>
<rect x="394.25" y="378.50" width="10.80" height="1.15" fill="#5d6ca6"/>
<rect x="394.25" y="377.12" width="10.80" height="1.42" fill="#9aa2c8"/>
<rect x="394.25" y="376.30" width="10.80" height="0.87" fill="#c6cadf"/>
<line x1="399.65" y1="431.20" x2="399.65" y2="433.80" stroke="#222" stroke-width="1"/>
<line x1="355.40" y1="346.00" x2="355.40" y2="431.80" stroke="#222" stroke-width="1.2"/>
<line x1="354.80" y1="431.20" x2="410.90" y2="431.20" stroke="#222" stroke-width="1.2"/>
<line x1="352.20" y1="431.20" x2="355.40" y2="431.20" stroke="#222" stroke-width="1"/>
<text transform="translate(349.50,433.60)" font-size="6.7" text-anchor="end" fill="#2a2a2a" stroke="#2a2a2a" stroke-width="0.2">0</text>
<line x1="352.20" y1="403.75" x2="355.40" y2="403.75" stroke="#222" stroke-width="1"/>
<text transform="translate(349.50,406.15)" font-size="6.7" text-anchor="end" fill="#2a2a2a" stroke="#2a2a2a" stroke-width="0.2">50</text>
<line x1="352.20" y1="376.30" x2="355.40" y2="376.30" stroke="#222" stroke-width="1"/>
<text transform="translate(349.50,378.70)" font-size="6.7" text-anchor="end" fill="#2a2a2a" stroke="#2a2a2a" stroke-width="0.2">100</text>
<line x1="352.20" y1="348.85" x2="355.40" y2="348.85" stroke="#222" stroke-width="1"/>
<text transform="translate(349.50,351.25)" font-size="6.7" text-anchor="end" fill="#2a2a2a" stroke="#2a2a2a" stroke-width="0.2">150</text>
<text transform="translate(366.55,443.10)" font-size="6.7" text-anchor="middle" fill="#2a2a2a" stroke="#2a2a2a" stroke-width="0.2">0</text>
<text transform="translate(383.10,443.10)" font-size="6.7" text-anchor="middle" fill="#2a2a2a" stroke="#2a2a2a" stroke-width="0.2">0.01</text>
<text transform="translate(399.65,443.10)" font-size="6.7" text-anchor="middle" fill="#2a2a2a" stroke="#2a2a2a" stroke-width="0.2">0.05</text>
<text transform="translate(382.70,454.52) scale(0.79,1)" font-size="7.6" text-anchor="middle" fill="#2a2a2a" stroke="#2a2a2a" stroke-width="0.2">Cystine (mM)</text>
<text transform="translate(333.10,388.60) rotate(-90) scale(0.768,1)" font-size="7.6" text-anchor="middle" fill="#2a2a2a" stroke="#2a2a2a" stroke-width="0.2">Freq. of singlets</text>
<rect x="361.80" y="340.30" width="5.60" height="5.40" fill="#c6cadf"/>
<text transform="translate(370.40,345.22)" font-size="6.2" text-anchor="start" fill="#2a2a2a" stroke="#2a2a2a" stroke-width="0.2">Non-Viable</text>
<rect x="361.80" y="348.90" width="5.60" height="5.40" fill="#9aa2c8"/>
<text transform="translate(370.40,353.82)" font-size="6.2" text-anchor="start" fill="#2a2a2a" stroke="#2a2a2a" stroke-width="0.2">Late Apoptotic</text>
<rect x="361.80" y="357.50" width="5.60" height="5.40" fill="#5d6ca6"/>
<text transform="translate(370.40,362.42)" font-size="6.2" text-anchor="start" fill="#2a2a2a" stroke="#2a2a2a" stroke-width="0.2">Early Apoptotic</text>
<rect x="361.80" y="366.10" width="5.60" height="5.40" fill="#0d4a86"/>
<text transform="translate(370.40,371.02)" font-size="6.2" text-anchor="start" fill="#2a2a2a" stroke="#2a2a2a" stroke-width="0.2">Viable</text>
<text transform="translate(483.70,332.01)" font-size="8.7" text-anchor="middle" fill="#1a1a1a" stroke="#1a1a1a" stroke-width="0.2">K562</text>
<rect x="461.85" y="377.12" width="10.80" height="54.13" fill="#0d4a86"/>
<rect x="461.85" y="376.85" width="10.80" height="0.32" fill="#5d6ca6"/>
<rect x="461.85" y="376.57" width="10.80" height="0.32" fill="#9aa2c8"/>
<rect x="461.85" y="376.30" width="10.80" height="0.32" fill="#c6cadf"/>
<line x1="467.25" y1="431.20" x2="467.25" y2="433.80" stroke="#222" stroke-width="1"/>
<rect x="478.40" y="377.12" width="10.80" height="54.13" fill="#0d4a86"/>
<rect x="478.40" y="376.85" width="10.80" height="0.32" fill="#5d6ca6"/>
<rect x="478.40" y="376.57" width="10.80" height="0.32" fill="#9aa2c8"/>
<rect x="478.40" y="376.30" width="10.80" height="0.32" fill="#c6cadf"/>
<line x1="483.80" y1="431.20" x2="483.80" y2="433.80" stroke="#222" stroke-width="1"/>
<rect x="494.95" y="377.12" width="10.80" height="54.13" fill="#0d4a86"/>
<rect x="494.95" y="376.85" width="10.80" height="0.32" fill="#5d6ca6"/>
<rect x="494.95" y="376.57" width="10.80" height="0.32" fill="#9aa2c8"/>
<rect x="494.95" y="376.30" width="10.80" height="0.32" fill="#c6cadf"/>
<line x1="500.35" y1="431.20" x2="500.35" y2="433.80" stroke="#222" stroke-width="1"/>
<line x1="456.10" y1="346.00" x2="456.10" y2="431.80" stroke="#222" stroke-width="1.2"/>
<line x1="455.50" y1="431.20" x2="511.60" y2="431.20" stroke="#222" stroke-width="1.2"/>
<line x1="452.90" y1="431.20" x2="456.10" y2="431.20" stroke="#222" stroke-width="1"/>
<text transform="translate(450.20,433.60)" font-size="6.7" text-anchor="end" fill="#2a2a2a" stroke="#2a2a2a" stroke-width="0.2">0</text>
<line x1="452.90" y1="403.75" x2="456.10" y2="403.75" stroke="#222" stroke-width="1"/>
<text transform="translate(450.20,406.15)" font-size="6.7" text-anchor="end" fill="#2a2a2a" stroke="#2a2a2a" stroke-width="0.2">50</text>
<line x1="452.90" y1="376.30" x2="456.10" y2="376.30" stroke="#222" stroke-width="1"/>
<text transform="translate(450.20,378.70)" font-size="6.7" text-anchor="end" fill="#2a2a2a" stroke="#2a2a2a" stroke-width="0.2">100</text>
<line x1="452.90" y1="348.85" x2="456.10" y2="348.85" stroke="#222" stroke-width="1"/>
<text transform="translate(450.20,351.25)" font-size="6.7" text-anchor="end" fill="#2a2a2a" stroke="#2a2a2a" stroke-width="0.2">150</text>
<text transform="translate(467.25,443.10)" font-size="6.7" text-anchor="middle" fill="#2a2a2a" stroke="#2a2a2a" stroke-width="0.2">0</text>
<text transform="translate(483.80,443.10)" font-size="6.7" text-anchor="middle" fill="#2a2a2a" stroke="#2a2a2a" stroke-width="0.2">0.01</text>
<text transform="translate(500.35,443.10)" font-size="6.7" text-anchor="middle" fill="#2a2a2a" stroke="#2a2a2a" stroke-width="0.2">0.05</text>
<text transform="translate(483.40,454.52) scale(0.79,1)" font-size="7.6" text-anchor="middle" fill="#2a2a2a" stroke="#2a2a2a" stroke-width="0.2">Cystine (mM)</text>
<text transform="translate(433.80,388.60) rotate(-90) scale(0.768,1)" font-size="7.6" text-anchor="middle" fill="#2a2a2a" stroke="#2a2a2a" stroke-width="0.2">Freq. of singlets</text>
<rect x="462.50" y="340.30" width="5.60" height="5.40" fill="#c6cadf"/>
<text transform="translate(471.10,345.22)" font-size="6.2" text-anchor="start" fill="#2a2a2a" stroke="#2a2a2a" stroke-width="0.2">Non-Viable</text>
<rect x="462.50" y="348.90" width="5.60" height="5.40" fill="#9aa2c8"/>
<text transform="translate(471.10,353.82)" font-size="6.2" text-anchor="start" fill="#2a2a2a" stroke="#2a2a2a" stroke-width="0.2">Late Apoptotic</text>
<rect x="462.50" y="357.50" width="5.60" height="5.40" fill="#5d6ca6"/>
<text transform="translate(471.10,362.42)" font-size="6.2" text-anchor="start" fill="#2a2a2a" stroke="#2a2a2a" stroke-width="0.2">Early Apoptotic</text>
<rect x="462.50" y="366.10" width="5.60" height="5.40" fill="#0d4a86"/>
<text transform="translate(471.10,371.02)" font-size="6.2" text-anchor="start" fill="#2a2a2a" stroke="#2a2a2a" stroke-width="0.2">Viable</text>
<text transform="translate(281.90,478.91)" font-size="8.7" text-anchor="middle" fill="#1a1a1a" stroke="#1a1a1a" stroke-width="0.2">HL60</text>
<rect x="260.05" y="549.15" width="10.80" height="29.70" fill="#0d4a86"/>
<rect x="260.05" y="547.51" width="10.80" height="1.70" fill="#5d6ca6"/>
<rect x="260.05" y="524.45" width="10.80" height="23.11" fill="#9aa2c8"/>
<rect x="260.05" y="523.90" width="10.80" height="0.60" fill="#c6cadf"/>
<line x1="265.45" y1="578.80" x2="265.45" y2="581.40" stroke="#222" stroke-width="1"/>
<rect x="276.60" y="547.07" width="10.80" height="31.78" fill="#0d4a86"/>
<rect x="276.60" y="545.70" width="10.80" height="1.42" fill="#5d6ca6"/>
<rect x="276.60" y="528.68" width="10.80" height="17.07" fill="#9aa2c8"/>
<rect x="276.60" y="524.39" width="10.80" height="4.33" fill="#c6cadf"/>
<line x1="282.00" y1="578.80" x2="282.00" y2="581.40" stroke="#222" stroke-width="1"/>
<rect x="293.15" y="530.21" width="10.80" height="48.64" fill="#0d4a86"/>
<rect x="293.15" y="529.83" width="10.80" height="0.43" fill="#5d6ca6"/>
<rect x="293.15" y="524.45" width="10.80" height="5.43" fill="#9aa2c8"/>
<rect x="293.15" y="523.90" width="10.80" height="0.60" fill="#c6cadf"/>
<line x1="298.55" y1="578.80" x2="298.55" y2="581.40" stroke="#222" stroke-width="1"/>
<line x1="254.30" y1="493.60" x2="254.30" y2="579.40" stroke="#222" stroke-width="1.2"/>
<line x1="253.70" y1="578.80" x2="309.80" y2="578.80" stroke="#222" stroke-width="1.2"/>
<line x1="251.10" y1="578.80" x2="254.30" y2="578.80" stroke="#222" stroke-width="1"/>
<text transform="translate(248.40,581.20)" font-size="6.7" text-anchor="end" fill="#2a2a2a" stroke="#2a2a2a" stroke-width="0.2">0</text>
<line x1="251.10" y1="551.35" x2="254.30" y2="551.35" stroke="#222" stroke-width="1"/>
<text transform="translate(248.40,553.75)" font-size="6.7" text-anchor="end" fill="#2a2a2a" stroke="#2a2a2a" stroke-width="0.2">50</text>
<line x1="251.10" y1="523.90" x2="254.30" y2="523.90" stroke="#222" stroke-width="1"/>
<text transform="translate(248.40,526.30)" font-size="6.7" text-anchor="end" fill="#2a2a2a" stroke="#2a2a2a" stroke-width="0.2">100</text>
<line x1="251.10" y1="496.45" x2="254.30" y2="496.45" stroke="#222" stroke-width="1"/>
<text transform="translate(248.40,498.85)" font-size="6.7" text-anchor="end" fill="#2a2a2a" stroke="#2a2a2a" stroke-width="0.2">150</text>
<text transform="translate(265.45,590.70)" font-size="6.7" text-anchor="middle" fill="#2a2a2a" stroke="#2a2a2a" stroke-width="0.2">0</text>
<text transform="translate(282.00,590.70)" font-size="6.7" text-anchor="middle" fill="#2a2a2a" stroke="#2a2a2a" stroke-width="0.2">0.01</text>
<text transform="translate(298.55,590.70)" font-size="6.7" text-anchor="middle" fill="#2a2a2a" stroke="#2a2a2a" stroke-width="0.2">0.05</text>
<text transform="translate(281.60,602.12) scale(0.79,1)" font-size="7.6" text-anchor="middle" fill="#2a2a2a" stroke="#2a2a2a" stroke-width="0.2">Cystine (mM)</text>
<text transform="translate(232.00,536.20) rotate(-90) scale(0.768,1)" font-size="7.6" text-anchor="middle" fill="#2a2a2a" stroke="#2a2a2a" stroke-width="0.2">Freq. of singlets</text>
<rect x="260.70" y="487.70" width="5.60" height="5.40" fill="#c6cadf"/>
<text transform="translate(269.30,492.62)" font-size="6.2" text-anchor="start" fill="#2a2a2a" stroke="#2a2a2a" stroke-width="0.2">Non-Viable</text>
<rect x="260.70" y="496.30" width="5.60" height="5.40" fill="#9aa2c8"/>
<text transform="translate(269.30,501.22)" font-size="6.2" text-anchor="start" fill="#2a2a2a" stroke="#2a2a2a" stroke-width="0.2">Late Apoptotic</text>
<rect x="260.70" y="504.90" width="5.60" height="5.40" fill="#5d6ca6"/>
<text transform="translate(269.30,509.82)" font-size="6.2" text-anchor="start" fill="#2a2a2a" stroke="#2a2a2a" stroke-width="0.2">Early Apoptotic</text>
<rect x="260.70" y="513.50" width="5.60" height="5.40" fill="#0d4a86"/>
<text transform="translate(269.30,518.42)" font-size="6.2" text-anchor="start" fill="#2a2a2a" stroke="#2a2a2a" stroke-width="0.2">Viable</text>
<text transform="translate(383.00,478.91)" font-size="8.7" text-anchor="middle" fill="#1a1a1a" stroke="#1a1a1a" stroke-width="0.2">MOLM13</text>
<rect x="361.15" y="563.32" width="10.80" height="15.53" fill="#0d4a86"/>
<rect x="361.15" y="560.02" width="10.80" height="3.34" fill="#5d6ca6"/>
<rect x="361.15" y="527.08" width="10.80" height="32.99" fill="#9aa2c8"/>
<rect x="361.15" y="524.23" width="10.80" height="2.90" fill="#c6cadf"/>
<line x1="366.55" y1="578.80" x2="366.55" y2="581.40" stroke="#222" stroke-width="1"/>
<rect x="377.70" y="561.78" width="10.80" height="17.07" fill="#0d4a86"/>
<rect x="377.70" y="559.04" width="10.80" height="2.79" fill="#5d6ca6"/>
<rect x="377.70" y="526.37" width="10.80" height="32.72" fill="#9aa2c8"/>
<rect x="377.70" y="524.45" width="10.80" height="1.97" fill="#c6cadf"/>
<line x1="383.10" y1="578.80" x2="383.10" y2="581.40" stroke="#222" stroke-width="1"/>
<rect x="394.25" y="530.60" width="10.80" height="48.25" fill="#0d4a86"/>
<rect x="394.25" y="528.62" width="10.80" height="2.03" fill="#5d6ca6"/>
<rect x="394.25" y="524.34" width="10.80" height="4.33" fill="#9aa2c8"/>
<rect x="394.25" y="523.90" width="10.80" height="0.49" fill="#c6cadf"/>
<line x1="399.65" y1="578.80" x2="399.65" y2="581.40" stroke="#222" stroke-width="1"/>
<line x1="355.40" y1="493.60" x2="355.40" y2="579.40" stroke="#222" stroke-width="1.2"/>
<line x1="354.80" y1="578.80" x2="410.90" y2="578.80" stroke="#222" stroke-width="1.2"/>
<line x1="352.20" y1="578.80" x2="355.40" y2="578.80" stroke="#222" stroke-width="1"/>
<text transform="translate(349.50,581.20)" font-size="6.7" text-anchor="end" fill="#2a2a2a" stroke="#2a2a2a" stroke-width="0.2">0</text>
<line x1="352.20" y1="551.35" x2="355.40" y2="551.35" stroke="#222" stroke-width="1"/>
<text transform="translate(349.50,553.75)" font-size="6.7" text-anchor="end" fill="#2a2a2a" stroke="#2a2a2a" stroke-width="0.2">50</text>
<line x1="352.20" y1="523.90" x2="355.40" y2="523.90" stroke="#222" stroke-width="1"/>
<text transform="translate(349.50,526.30)" font-size="6.7" text-anchor="end" fill="#2a2a2a" stroke="#2a2a2a" stroke-width="0.2">100</text>
<line x1="352.20" y1="496.45" x2="355.40" y2="496.45" stroke="#222" stroke-width="1"/>
<text transform="translate(349.50,498.85)" font-size="6.7" text-anchor="end" fill="#2a2a2a" stroke="#2a2a2a" stroke-width="0.2">150</text>
<text transform="translate(366.55,590.70)" font-size="6.7" text-anchor="middle" fill="#2a2a2a" stroke="#2a2a2a" stroke-width="0.2">0</text>
<text transform="translate(383.10,590.70)" font-size="6.7" text-anchor="middle" fill="#2a2a2a" stroke="#2a2a2a" stroke-width="0.2">0.01</text>
<text transform="translate(399.65,590.70)" font-size="6.7" text-anchor="middle" fill="#2a2a2a" stroke="#2a2a2a" stroke-width="0.2">0.05</text>
<text transform="translate(382.70,602.12) scale(0.79,1)" font-size="7.6" text-anchor="middle" fill="#2a2a2a" stroke="#2a2a2a" stroke-width="0.2">Cystine (mM)</text>
<text transform="translate(333.10,536.20) rotate(-90) scale(0.768,1)" font-size="7.6" text-anchor="middle" fill="#2a2a2a" stroke="#2a2a2a" stroke-width="0.2">Freq. of singlets</text>
<rect x="361.80" y="487.70" width="5.60" height="5.40" fill="#c6cadf"/>
<text transform="translate(370.40,492.62)" font-size="6.2" text-anchor="start" fill="#2a2a2a" stroke="#2a2a2a" stroke-width="0.2">Non-Viable</text>
<rect x="361.80" y="496.30" width="5.60" height="5.40" fill="#9aa2c8"/>
<text transform="translate(370.40,501.22)" font-size="6.2" text-anchor="start" fill="#2a2a2a" stroke="#2a2a2a" stroke-width="0.2">Late Apoptotic</text>
<rect x="361.80" y="504.90" width="5.60" height="5.40" fill="#5d6ca6"/>
<text transform="translate(370.40,509.82)" font-size="6.2" text-anchor="start" fill="#2a2a2a" stroke="#2a2a2a" stroke-width="0.2">Early Apoptotic</text>
<rect x="361.80" y="513.50" width="5.60" height="5.40" fill="#0d4a86"/>
<text transform="translate(370.40,518.42)" font-size="6.2" text-anchor="start" fill="#2a2a2a" stroke="#2a2a2a" stroke-width="0.2">Viable</text>
<text transform="translate(483.70,478.91)" font-size="8.7" text-anchor="middle" fill="#1a1a1a" stroke="#1a1a1a" stroke-width="0.2">K562</text>
<rect x="461.85" y="525.66" width="10.80" height="53.19" fill="#0d4a86"/>
<rect x="461.85" y="525.33" width="10.80" height="0.38" fill="#5d6ca6"/>
<rect x="461.85" y="524.45" width="10.80" height="0.93" fill="#9aa2c8"/>
<rect x="461.85" y="523.90" width="10.80" height="0.60" fill="#c6cadf"/>
<line x1="467.25" y1="578.80" x2="467.25" y2="581.40" stroke="#222" stroke-width="1"/>
<rect x="478.40" y="525.66" width="10.80" height="53.19" fill="#0d4a86"/>
<rect x="478.40" y="525.33" width="10.80" height="0.38" fill="#5d6ca6"/>
<rect x="478.40" y="524.45" width="10.80" height="0.93" fill="#9aa2c8"/>
<rect x="478.40" y="523.90" width="10.80" height="0.60" fill="#c6cadf"/>
<line x1="483.80" y1="578.80" x2="483.80" y2="581.40" stroke="#222" stroke-width="1"/>
<rect x="494.95" y="525.66" width="10.80" height="53.19" fill="#0d4a86"/>
<rect x="494.95" y="525.33" width="10.80" height="0.38" fill="#5d6ca6"/>
<rect x="494.95" y="524.45" width="10.80" height="0.93" fill="#9aa2c8"/>
<rect x="494.95" y="523.90" width="10.80" height="0.60" fill="#c6cadf"/>
<line x1="500.35" y1="578.80" x2="500.35" y2="581.40" stroke="#222" stroke-width="1"/>
<line x1="456.10" y1="493.60" x2="456.10" y2="579.40" stroke="#222" stroke-width="1.2"/>
<line x1="455.50" y1="578.80" x2="511.60" y2="578.80" stroke="#222" stroke-width="1.2"/>
<line x1="452.90" y1="578.80" x2="456.10" y2="578.80" stroke="#222" stroke-width="1"/>
<text transform="translate(450.20,581.20)" font-size="6.7" text-anchor="end" fill="#2a2a2a" stroke="#2a2a2a" stroke-width="0.2">0</text>
<line x1="452.90" y1="551.35" x2="456.10" y2="551.35" stroke="#222" stroke-width="1"/>
<text transform="translate(450.20,553.75)" font-size="6.7" text-anchor="end" fill="#2a2a2a" stroke="#2a2a2a" stroke-width="0.2">50</text>
<line x1="452.90" y1="523.90" x2="456.10" y2="523.90" stroke="#222" stroke-width="1"/>
<text transform="translate(450.20,526.30)" font-size="6.7" text-anchor="end" fill="#2a2a2a" stroke="#2a2a2a" stroke-width="0.2">100</text>
<line x1="452.90" y1="496.45" x2="456.10" y2="496.45" stroke="#222" stroke-width="1"/>
<text transform="translate(450.20,498.85)" font-size="6.7" text-anchor="end" fill="#2a2a2a" stroke="#2a2a2a" stroke-width="0.2">150</text>
<text transform="translate(467.25,590.70)" font-size="6.7" text-anchor="middle" fill="#2a2a2a" stroke="#2a2a2a" stroke-width="0.2">0</text>
<text transform="translate(483.80,590.70)" font-size="6.7" text-anchor="middle" fill="#2a2a2a" stroke="#2a2a2a" stroke-width="0.2">0.01</text>
<text transform="translate(500.35,590.70)" font-size="6.7" text-anchor="middle" fill="#2a2a2a" stroke="#2a2a2a" stroke-width="0.2">0.05</text>
<text transform="translate(483.40,602.12) scale(0.79,1)" font-size="7.6" text-anchor="middle" fill="#2a2a2a" stroke="#2a2a2a" stroke-width="0.2">Cystine (mM)</text>
<text transform="translate(433.80,536.20) rotate(-90) scale(0.768,1)" font-size="7.6" text-anchor="middle" fill="#2a2a2a" stroke="#2a2a2a" stroke-width="0.2">Freq. of singlets</text>
<rect x="462.50" y="487.70" width="5.60" height="5.40" fill="#c6cadf"/>
<text transform="translate(471.10,492.62)" font-size="6.2" text-anchor="start" fill="#2a2a2a" stroke="#2a2a2a" stroke-width="0.2">Non-Viable</text>
<rect x="462.50" y="496.30" width="5.60" height="5.40" fill="#9aa2c8"/>
<text transform="translate(471.10,501.22)" font-size="6.2" text-anchor="start" fill="#2a2a2a" stroke="#2a2a2a" stroke-width="0.2">Late Apoptotic</text>
<rect x="462.50" y="504.90" width="5.60" height="5.40" fill="#5d6ca6"/>
<text transform="translate(471.10,509.82)" font-size="6.2" text-anchor="start" fill="#2a2a2a" stroke="#2a2a2a" stroke-width="0.2">Early Apoptotic</text>
<rect x="462.50" y="513.50" width="5.60" height="5.40" fill="#0d4a86"/>
<text transform="translate(471.10,518.42)" font-size="6.2" text-anchor="start" fill="#2a2a2a" stroke="#2a2a2a" stroke-width="0.2">Viable</text>
<text transform="translate(216.80,388.00) rotate(-90)" font-size="8.4" text-anchor="middle" fill="#1a1a1a" stroke="#1a1a1a" stroke-width="0.2">10 hrs</text>
<text transform="translate(217.10,536.70) rotate(-90)" font-size="8.4" text-anchor="middle" fill="#1a1a1a" stroke="#1a1a1a" stroke-width="0.2">24 hrs</text>
<rect x="0.5" y="0.5" width="519" height="618" fill="none" stroke="#333" stroke-width="1.1"/>
</svg>
</body></html>
